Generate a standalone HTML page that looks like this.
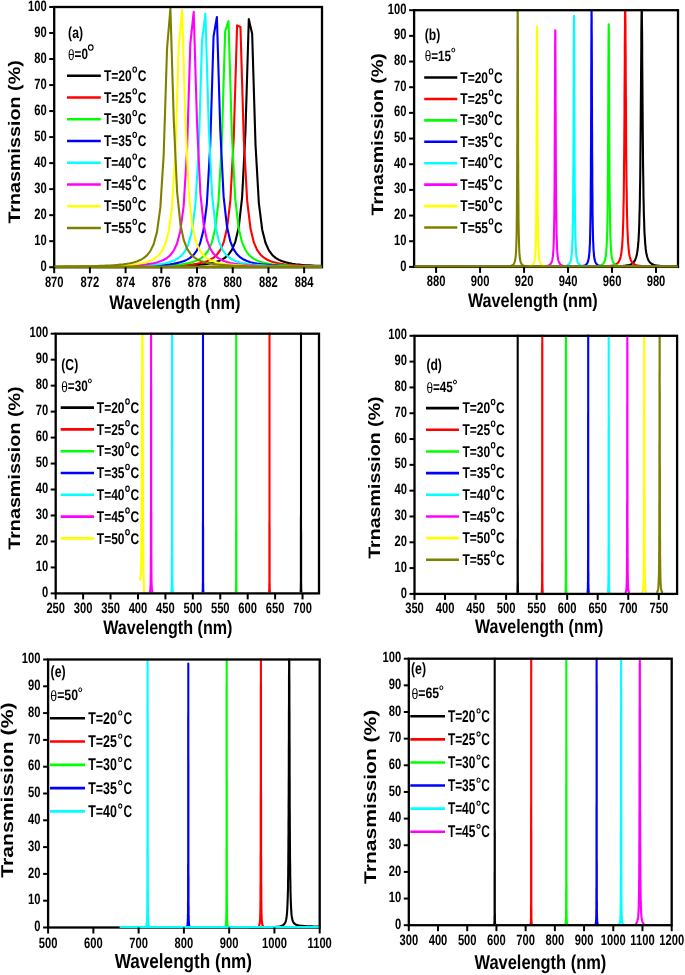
<!DOCTYPE html>
<html><head><meta charset="utf-8"><style>
html,body{margin:0;padding:0;background:#fff;}
svg{display:block;font-family:"Liberation Sans", sans-serif;text-rendering:geometricPrecision;}
text{filter:grayscale(1);}
</style></head><body>
<svg width="685" height="975" viewBox="0 0 685 975">
<rect width="685" height="975" fill="#fff"/>
<clipPath id="clipa"><rect x="54.2" y="6" width="267.8" height="262.2"/></clipPath>
<g clip-path="url(#clipa)">
<polyline points="54.20,267.04 54.50,267.04 57.85,267.03 61.20,267.03 64.55,267.02 67.90,267.01 71.25,267.01 74.60,267.00 77.95,266.99 81.30,266.98 84.65,266.97 88.00,266.96 91.35,266.95 94.70,266.94 98.05,266.93 101.40,266.92 104.75,266.91 108.10,266.89 111.45,266.88 114.80,266.86 118.15,266.84 121.50,266.82 124.85,266.80 128.20,266.78 131.55,266.76 134.90,266.73 138.25,266.70 141.60,266.67 144.95,266.64 148.30,266.60 151.65,266.56 155.00,266.52 158.35,266.46 161.70,266.41 165.05,266.34 168.40,266.27 171.75,266.19 175.10,266.10 178.45,266.00 181.80,265.88 185.15,265.74 188.50,265.58 191.85,265.39 195.20,265.16 198.55,264.89 201.90,264.56 205.25,264.16 208.60,263.65 211.95,263.02 215.30,262.19 218.65,261.10 222.00,259.61 225.35,257.51 228.70,254.41 232.05,249.60 235.40,241.60 238.75,227.03 242.10,197.45 245.45,131.74 248.80,19.17 252.15,33.81 255.50,144.36 258.85,203.10 262.20,229.70 265.55,243.00 268.90,250.42 272.25,254.93 275.60,257.85 278.95,259.85 282.30,261.27 285.65,262.32 289.00,263.12 292.35,263.73 295.70,264.22 299.05,264.61 302.40,264.93 305.75,265.19 309.10,265.41 312.45,265.60 315.80,265.76 319.15,265.89 322.00,266.00" fill="none" stroke="#000000" stroke-width="2.1" stroke-linejoin="round"/>
<polyline points="54.20,267.02 56.20,267.01 59.55,267.01 62.90,267.00 66.25,266.99 69.60,266.98 72.95,266.97 76.30,266.96 79.65,266.95 83.00,266.94 86.35,266.93 89.70,266.92 93.05,266.91 96.40,266.89 99.75,266.88 103.10,266.86 106.45,266.84 109.80,266.83 113.15,266.81 116.50,266.78 119.85,266.76 123.20,266.73 126.55,266.71 129.90,266.68 133.25,266.64 136.60,266.60 139.95,266.56 143.30,266.52 146.65,266.47 150.00,266.41 153.35,266.35 156.70,266.28 160.05,266.20 163.40,266.11 166.75,266.00 170.10,265.88 173.45,265.75 176.80,265.59 180.15,265.40 183.50,265.17 186.85,264.91 190.20,264.58 193.55,264.19 196.90,263.69 200.25,263.06 203.60,262.25 206.95,261.18 210.30,259.72 213.65,257.66 217.00,254.64 220.35,249.97 223.70,242.24 227.05,228.25 230.40,200.05 233.75,137.54 237.10,25.42 240.45,26.98 243.80,138.88 247.15,200.65 250.50,228.54 253.85,242.39 257.20,250.06 260.55,254.70 263.90,257.70 267.25,259.74 270.60,261.20 273.95,262.26 277.30,263.07 280.65,263.70 284.00,264.19 287.35,264.59 290.70,264.91 294.05,265.18 297.40,265.40 300.75,265.59 304.10,265.75 307.45,265.89 310.80,266.01 314.15,266.11 317.50,266.20 320.85,266.28 322.00,266.30" fill="none" stroke="#ff0000" stroke-width="2.1" stroke-linejoin="round"/>
<polyline points="54.20,266.99 54.30,266.99 57.65,266.98 61.00,266.97 64.35,266.96 67.70,266.95 71.05,266.94 74.40,266.93 77.75,266.92 81.10,266.91 84.45,266.89 87.80,266.88 91.15,266.86 94.50,266.85 97.85,266.83 101.20,266.81 104.55,266.79 107.90,266.76 111.25,266.74 114.60,266.71 117.95,266.68 121.30,266.64 124.65,266.61 128.00,266.57 131.35,266.52 134.70,266.47 138.05,266.41 141.40,266.35 144.75,266.28 148.10,266.20 151.45,266.11 154.80,266.01 158.15,265.89 161.50,265.76 164.85,265.60 168.20,265.41 171.55,265.19 174.90,264.92 178.25,264.60 181.60,264.21 184.95,263.72 188.30,263.10 191.65,262.30 195.00,261.25 198.35,259.81 201.70,257.80 205.05,254.85 208.40,250.30 211.75,242.80 215.10,229.31 218.45,202.30 221.80,142.56 225.15,31.49 228.50,21.20 231.85,133.71 235.20,198.33 238.55,227.44 241.90,241.81 245.25,249.73 248.60,254.49 251.95,257.56 255.30,259.65 258.65,261.13 262.00,262.21 265.35,263.03 268.70,263.67 272.05,264.17 275.40,264.57 278.75,264.89 282.10,265.16 285.45,265.39 288.80,265.58 292.15,265.74 295.50,265.88 298.85,266.00 302.20,266.10 305.55,266.19 308.90,266.27 312.25,266.35 315.60,266.41 318.95,266.47 322.00,266.51" fill="none" stroke="#00ff00" stroke-width="2.1" stroke-linejoin="round"/>
<polyline points="54.20,266.96 56.10,266.96 59.45,266.94 62.80,266.93 66.15,266.92 69.50,266.91 72.85,266.89 76.20,266.88 79.55,266.86 82.90,266.85 86.25,266.83 89.60,266.81 92.95,266.79 96.30,266.76 99.65,266.74 103.00,266.71 106.35,266.68 109.70,266.65 113.05,266.61 116.40,266.57 119.75,266.52 123.10,266.47 126.45,266.42 129.80,266.36 133.15,266.29 136.50,266.21 139.85,266.12 143.20,266.01 146.55,265.90 149.90,265.76 153.25,265.60 156.60,265.42 159.95,265.20 163.30,264.94 166.65,264.62 170.00,264.23 173.35,263.75 176.70,263.13 180.05,262.34 183.40,261.30 186.75,259.89 190.10,257.91 193.45,255.01 196.80,250.56 200.15,243.23 203.50,230.12 206.85,204.00 210.20,146.38 213.55,36.50 216.90,16.94 220.25,129.47 223.60,196.42 226.95,226.55 230.30,241.34 233.65,249.45 237.00,254.32 240.35,257.45 243.70,259.57 247.05,261.07 250.40,262.17 253.75,263.00 257.10,263.64 260.45,264.15 263.80,264.55 267.15,264.88 270.50,265.15 273.85,265.38 277.20,265.57 280.55,265.73 283.90,265.87 287.25,265.99 290.60,266.10 293.95,266.19 297.30,266.27 300.65,266.34 304.00,266.41 307.35,266.46 310.70,266.51 314.05,266.56 317.40,266.60 320.75,266.64 322.00,266.65" fill="none" stroke="#0000ff" stroke-width="2.1" stroke-linejoin="round"/>
<polyline points="54.20,266.92 54.65,266.92 58.00,266.91 61.35,266.89 64.70,266.88 68.05,266.86 71.40,266.85 74.75,266.83 78.10,266.81 81.45,266.79 84.80,266.76 88.15,266.74 91.50,266.71 94.85,266.68 98.20,266.65 101.55,266.61 104.90,266.57 108.25,266.52 111.60,266.47 114.95,266.42 118.30,266.36 121.65,266.29 125.00,266.21 128.35,266.12 131.70,266.02 135.05,265.90 138.40,265.77 141.75,265.61 145.10,265.43 148.45,265.21 151.80,264.95 155.15,264.63 158.50,264.24 161.85,263.76 165.20,263.16 168.55,262.38 171.90,261.34 175.25,259.95 178.60,257.99 181.95,255.14 185.30,250.75 188.65,243.57 192.00,230.75 195.35,205.32 198.70,149.35 202.05,40.63 205.40,13.77 208.75,125.98 212.10,194.84 215.45,225.81 218.80,240.96 222.15,249.23 225.50,254.18 228.85,257.35 232.20,259.50 235.55,261.02 238.90,262.14 242.25,262.97 245.60,263.62 248.95,264.13 252.30,264.54 255.65,264.87 259.00,265.14 262.35,265.37 265.70,265.57 269.05,265.73 272.40,265.87 275.75,265.99 279.10,266.10 282.45,266.19 285.80,266.27 289.15,266.34 292.50,266.40 295.85,266.46 299.20,266.51 302.55,266.56 305.90,266.60 309.25,266.64 312.60,266.67 315.95,266.70 319.30,266.73 322.00,266.75" fill="none" stroke="#00ffff" stroke-width="2.1" stroke-linejoin="round"/>
<polyline points="54.20,266.87 56.35,266.86 59.70,266.85 63.05,266.83 66.40,266.81 69.75,266.79 73.10,266.76 76.45,266.74 79.80,266.71 83.15,266.68 86.50,266.65 89.85,266.61 93.20,266.57 96.55,266.53 99.90,266.48 103.25,266.42 106.60,266.36 109.95,266.29 113.30,266.21 116.65,266.12 120.00,266.02 123.35,265.91 126.70,265.77 130.05,265.61 133.40,265.43 136.75,265.21 140.10,264.95 143.45,264.64 146.80,264.26 150.15,263.78 153.50,263.17 156.85,262.40 160.20,261.37 163.55,259.99 166.90,258.05 170.25,255.22 173.60,250.88 176.95,243.79 180.30,231.17 183.65,206.18 187.00,151.28 190.35,43.43 193.70,11.77 197.05,123.61 200.40,193.76 203.75,225.31 207.10,240.70 210.45,249.08 213.80,254.09 217.15,257.29 220.50,259.46 223.85,260.99 227.20,262.11 230.55,262.96 233.90,263.61 237.25,264.12 240.60,264.53 243.95,264.86 247.30,265.14 250.65,265.37 254.00,265.56 257.35,265.73 260.70,265.87 264.05,265.99 267.40,266.09 270.75,266.19 274.10,266.27 277.45,266.34 280.80,266.40 284.15,266.46 287.50,266.51 290.85,266.56 294.20,266.60 297.55,266.64 300.90,266.67 304.25,266.70 307.60,266.73 310.95,266.76 314.30,266.78 317.65,266.80 321.00,266.82 322.00,266.83" fill="none" stroke="#ff00ff" stroke-width="2.1" stroke-linejoin="round"/>
<polyline points="54.20,266.81 54.80,266.81 58.15,266.79 61.50,266.76 64.85,266.74 68.20,266.71 71.55,266.68 74.90,266.65 78.25,266.61 81.60,266.57 84.95,266.53 88.30,266.48 91.65,266.42 95.00,266.36 98.35,266.29 101.70,266.21 105.05,266.12 108.40,266.02 111.75,265.91 115.10,265.77 118.45,265.62 121.80,265.43 125.15,265.22 128.50,264.96 131.85,264.65 135.20,264.26 138.55,263.79 141.90,263.19 145.25,262.42 148.60,261.40 151.95,260.02 155.30,258.09 158.65,255.29 162.00,251.00 165.35,243.98 168.70,231.52 172.05,206.91 175.40,152.94 178.75,45.91 182.10,10.11 185.45,121.51 188.80,192.80 192.15,224.87 195.50,240.47 198.85,248.95 202.20,254.00 205.55,257.24 208.90,259.42 212.25,260.96 215.60,262.09 218.95,262.94 222.30,263.60 225.65,264.11 229.00,264.52 232.35,264.86 235.70,265.13 239.05,265.36 242.40,265.56 245.75,265.72 249.10,265.86 252.45,265.99 255.80,266.09 259.15,266.18 262.50,266.27 265.85,266.34 269.20,266.40 272.55,266.46 275.90,266.51 279.25,266.56 282.60,266.60 285.95,266.64 289.30,266.67 292.65,266.70 296.00,266.73 299.35,266.76 302.70,266.78 306.05,266.80 309.40,266.82 312.75,266.84 316.10,266.86 319.45,266.88 322.00,266.89" fill="none" stroke="#ffff00" stroke-width="2.1" stroke-linejoin="round"/>
<polyline points="54.20,266.73 56.50,266.71 59.85,266.68 63.20,266.65 66.55,266.61 69.90,266.57 73.25,266.53 76.60,266.48 79.95,266.42 83.30,266.36 86.65,266.29 90.00,266.22 93.35,266.13 96.70,266.03 100.05,265.91 103.40,265.78 106.75,265.62 110.10,265.44 113.45,265.22 116.80,264.97 120.15,264.65 123.50,264.27 126.85,263.80 130.20,263.20 133.55,262.43 136.90,261.42 140.25,260.05 143.60,258.14 146.95,255.36 150.30,251.11 153.65,244.17 157.00,231.87 160.35,207.64 163.70,154.57 167.05,48.41 170.40,8.53 173.75,119.38 177.10,191.83 180.45,224.42 183.80,240.23 187.15,248.82 190.50,253.92 193.85,257.18 197.20,259.38 200.55,260.94 203.90,262.07 207.25,262.93 210.60,263.58 213.95,264.10 217.30,264.51 220.65,264.85 224.00,265.13 227.35,265.36 230.70,265.55 234.05,265.72 237.40,265.86 240.75,265.98 244.10,266.09 247.45,266.18 250.80,266.26 254.15,266.34 257.50,266.40 260.85,266.46 264.20,266.51 267.55,266.56 270.90,266.60 274.25,266.63 277.60,266.67 280.95,266.70 284.30,266.73 287.65,266.76 291.00,266.78 294.35,266.80 297.70,266.82 301.05,266.84 304.40,266.86 307.75,266.88 311.10,266.89 314.45,266.90 317.80,266.92 321.15,266.93 322.00,266.93" fill="none" stroke="#808000" stroke-width="2.1" stroke-linejoin="round"/>
</g>
<rect x="54.2" y="7" width="267.8" height="260.2" fill="none" stroke="#000" stroke-width="2.3"/>
<line x1="54.2" y1="266.9" x2="322" y2="266.9" stroke="#808000" stroke-width="2.8"/>
<line x1="49.2" y1="267.2" x2="54.2" y2="267.2" stroke="#000" stroke-width="2"/>
<text transform="translate(46.6,270.8) scale(0.745,1)" font-size="15" font-weight="bold" text-anchor="end" fill="#000">0</text>
<line x1="49.2" y1="241.18" x2="54.2" y2="241.18" stroke="#000" stroke-width="2"/>
<text transform="translate(46.6,244.78) scale(0.745,1)" font-size="15" font-weight="bold" text-anchor="end" fill="#000">10</text>
<line x1="49.2" y1="215.16" x2="54.2" y2="215.16" stroke="#000" stroke-width="2"/>
<text transform="translate(46.6,218.76) scale(0.745,1)" font-size="15" font-weight="bold" text-anchor="end" fill="#000">20</text>
<line x1="49.2" y1="189.14" x2="54.2" y2="189.14" stroke="#000" stroke-width="2"/>
<text transform="translate(46.6,192.74) scale(0.745,1)" font-size="15" font-weight="bold" text-anchor="end" fill="#000">30</text>
<line x1="49.2" y1="163.12" x2="54.2" y2="163.12" stroke="#000" stroke-width="2"/>
<text transform="translate(46.6,166.72) scale(0.745,1)" font-size="15" font-weight="bold" text-anchor="end" fill="#000">40</text>
<line x1="49.2" y1="137.1" x2="54.2" y2="137.1" stroke="#000" stroke-width="2"/>
<text transform="translate(46.6,140.7) scale(0.745,1)" font-size="15" font-weight="bold" text-anchor="end" fill="#000">50</text>
<line x1="49.2" y1="111.08" x2="54.2" y2="111.08" stroke="#000" stroke-width="2"/>
<text transform="translate(46.6,114.68) scale(0.745,1)" font-size="15" font-weight="bold" text-anchor="end" fill="#000">60</text>
<line x1="49.2" y1="85.06" x2="54.2" y2="85.06" stroke="#000" stroke-width="2"/>
<text transform="translate(46.6,88.66) scale(0.745,1)" font-size="15" font-weight="bold" text-anchor="end" fill="#000">70</text>
<line x1="49.2" y1="59.04" x2="54.2" y2="59.04" stroke="#000" stroke-width="2"/>
<text transform="translate(46.6,62.64) scale(0.745,1)" font-size="15" font-weight="bold" text-anchor="end" fill="#000">80</text>
<line x1="49.2" y1="33.02" x2="54.2" y2="33.02" stroke="#000" stroke-width="2"/>
<text transform="translate(46.6,36.62) scale(0.745,1)" font-size="15" font-weight="bold" text-anchor="end" fill="#000">90</text>
<line x1="49.2" y1="7" x2="54.2" y2="7" stroke="#000" stroke-width="2"/>
<text transform="translate(46.6,10.6) scale(0.745,1)" font-size="15" font-weight="bold" text-anchor="end" fill="#000">100</text>
<line x1="54.2" y1="267.2" x2="54.2" y2="273.2" stroke="#000" stroke-width="2"/>
<text transform="translate(54.2,286.5) scale(0.745,1)" font-size="15" font-weight="bold" text-anchor="middle" fill="#000">870</text>
<line x1="89.91" y1="267.2" x2="89.91" y2="273.2" stroke="#000" stroke-width="2"/>
<text transform="translate(89.91,286.5) scale(0.745,1)" font-size="15" font-weight="bold" text-anchor="middle" fill="#000">872</text>
<line x1="125.61" y1="267.2" x2="125.61" y2="273.2" stroke="#000" stroke-width="2"/>
<text transform="translate(125.61,286.5) scale(0.745,1)" font-size="15" font-weight="bold" text-anchor="middle" fill="#000">874</text>
<line x1="161.32" y1="267.2" x2="161.32" y2="273.2" stroke="#000" stroke-width="2"/>
<text transform="translate(161.32,286.5) scale(0.745,1)" font-size="15" font-weight="bold" text-anchor="middle" fill="#000">876</text>
<line x1="197.03" y1="267.2" x2="197.03" y2="273.2" stroke="#000" stroke-width="2"/>
<text transform="translate(197.03,286.5) scale(0.745,1)" font-size="15" font-weight="bold" text-anchor="middle" fill="#000">878</text>
<line x1="232.73" y1="267.2" x2="232.73" y2="273.2" stroke="#000" stroke-width="2"/>
<text transform="translate(232.73,286.5) scale(0.745,1)" font-size="15" font-weight="bold" text-anchor="middle" fill="#000">880</text>
<line x1="268.44" y1="267.2" x2="268.44" y2="273.2" stroke="#000" stroke-width="2"/>
<text transform="translate(268.44,286.5) scale(0.745,1)" font-size="15" font-weight="bold" text-anchor="middle" fill="#000">882</text>
<line x1="304.15" y1="267.2" x2="304.15" y2="273.2" stroke="#000" stroke-width="2"/>
<text transform="translate(304.15,286.5) scale(0.745,1)" font-size="15" font-weight="bold" text-anchor="middle" fill="#000">884</text>
<text transform="translate(174.9,308.6) scale(0.84,1)" font-size="19.5" font-weight="bold" text-anchor="middle" fill="#000">Wavelength (nm)</text>
<text transform="translate(19.8,141.9) rotate(-90) scale(1,0.85)" font-size="19.6" font-weight="bold" text-anchor="middle" textLength="163.4" lengthAdjust="spacingAndGlyphs">Trnasmission (%)</text>
<text transform="translate(68.1,37.9) scale(0.765,1)" font-size="15.9" font-weight="bold" text-anchor="start" fill="#000">(a)</text>
<text transform="translate(68.1,59.2) scale(0.78,1)" font-size="15" font-weight="bold"><tspan font-weight="normal" dy="0.9">θ</tspan><tspan dy="-0.9">=</tspan>0</text>
<ellipse cx="90.77" cy="47.6" rx="2.3" ry="2.7" fill="none" stroke="#000" stroke-width="1.1"/>
<line x1="67" y1="75.7" x2="100.8" y2="75.7" stroke="#000000" stroke-width="2.6"/>
<text transform="translate(104,80.8) scale(0.775,1)" font-size="15.5" font-weight="bold" text-anchor="start" fill="#000">T=20</text>
<ellipse cx="134.71" cy="69.6" rx="1.75" ry="2.65" fill="none" stroke="#000" stroke-width="1.15"/>
<text transform="translate(137.71,80.8) scale(0.775,1)" font-size="15.5" font-weight="bold" text-anchor="start" fill="#000">C</text>
<line x1="67" y1="97.45" x2="100.8" y2="97.45" stroke="#ff0000" stroke-width="2.6"/>
<text transform="translate(104,102.55) scale(0.775,1)" font-size="15.5" font-weight="bold" text-anchor="start" fill="#000">T=25</text>
<ellipse cx="134.71" cy="91.35" rx="1.75" ry="2.65" fill="none" stroke="#000" stroke-width="1.15"/>
<text transform="translate(137.71,102.55) scale(0.775,1)" font-size="15.5" font-weight="bold" text-anchor="start" fill="#000">C</text>
<line x1="67" y1="119.2" x2="100.8" y2="119.2" stroke="#00ff00" stroke-width="2.6"/>
<text transform="translate(104,124.3) scale(0.775,1)" font-size="15.5" font-weight="bold" text-anchor="start" fill="#000">T=30</text>
<ellipse cx="134.71" cy="113.1" rx="1.75" ry="2.65" fill="none" stroke="#000" stroke-width="1.15"/>
<text transform="translate(137.71,124.3) scale(0.775,1)" font-size="15.5" font-weight="bold" text-anchor="start" fill="#000">C</text>
<line x1="67" y1="140.95" x2="100.8" y2="140.95" stroke="#0000ff" stroke-width="2.6"/>
<text transform="translate(104,146.05) scale(0.775,1)" font-size="15.5" font-weight="bold" text-anchor="start" fill="#000">T=35</text>
<ellipse cx="134.71" cy="134.85" rx="1.75" ry="2.65" fill="none" stroke="#000" stroke-width="1.15"/>
<text transform="translate(137.71,146.05) scale(0.775,1)" font-size="15.5" font-weight="bold" text-anchor="start" fill="#000">C</text>
<line x1="67" y1="162.7" x2="100.8" y2="162.7" stroke="#00ffff" stroke-width="2.6"/>
<text transform="translate(104,167.8) scale(0.775,1)" font-size="15.5" font-weight="bold" text-anchor="start" fill="#000">T=40</text>
<ellipse cx="134.71" cy="156.6" rx="1.75" ry="2.65" fill="none" stroke="#000" stroke-width="1.15"/>
<text transform="translate(137.71,167.8) scale(0.775,1)" font-size="15.5" font-weight="bold" text-anchor="start" fill="#000">C</text>
<line x1="67" y1="184.45" x2="100.8" y2="184.45" stroke="#ff00ff" stroke-width="2.6"/>
<text transform="translate(104,189.55) scale(0.775,1)" font-size="15.5" font-weight="bold" text-anchor="start" fill="#000">T=45</text>
<ellipse cx="134.71" cy="178.35" rx="1.75" ry="2.65" fill="none" stroke="#000" stroke-width="1.15"/>
<text transform="translate(137.71,189.55) scale(0.775,1)" font-size="15.5" font-weight="bold" text-anchor="start" fill="#000">C</text>
<line x1="67" y1="206.2" x2="100.8" y2="206.2" stroke="#ffff00" stroke-width="2.6"/>
<text transform="translate(104,211.3) scale(0.775,1)" font-size="15.5" font-weight="bold" text-anchor="start" fill="#000">T=50</text>
<ellipse cx="134.71" cy="200.1" rx="1.75" ry="2.65" fill="none" stroke="#000" stroke-width="1.15"/>
<text transform="translate(137.71,211.3) scale(0.775,1)" font-size="15.5" font-weight="bold" text-anchor="start" fill="#000">C</text>
<line x1="67" y1="227.95" x2="100.8" y2="227.95" stroke="#808000" stroke-width="2.6"/>
<text transform="translate(104,233.05) scale(0.775,1)" font-size="15.5" font-weight="bold" text-anchor="start" fill="#000">T=55</text>
<ellipse cx="134.71" cy="221.85" rx="1.75" ry="2.65" fill="none" stroke="#000" stroke-width="1.15"/>
<text transform="translate(137.71,233.05) scale(0.775,1)" font-size="15.5" font-weight="bold" text-anchor="start" fill="#000">C</text>
<clipPath id="clipb"><rect x="414.1" y="9.2" width="263.9" height="258.7"/></clipPath>
<g clip-path="url(#clipb)">
<polyline points="414.1,266.9 428.8,266.9 442.6,266.9 455.5,266.9 467.6,266.9 478.9,266.9 489.4,266.9 499.3,266.9 508.5,266.9 517.1,266.9 525.2,266.9 532.7,266.9 539.8,266.9 546.4,266.9 552.6,266.9 558.3,266.9 563.7,266.8 568.8,266.8 573.5,266.8 577.9,266.8 582.1,266.8 585.9,266.8 589.5,266.8 592.9,266.8 596.1,266.7 599.0,266.7 601.8,266.7 604.4,266.7 606.8,266.6 609.1,266.6 611.2,266.6 613.2,266.5 615.0,266.5 616.7,266.4 618.4,266.3 619.9,266.2 621.3,266.2 622.6,266.0 623.9,265.9 625.0,265.8 626.1,265.6 627.1,265.4 628.1,265.2 628.9,265.0 629.8,264.7 630.6,264.4 631.3,264.1 632.0,263.6 632.6,263.2 633.2,262.7 633.7,262.1 634.3,261.4 634.8,260.6 635.2,259.7 635.6,258.7 636.0,257.5 636.4,256.2 636.8,254.7 637.1,253.0 637.4,251.1 637.7,248.9 638.0,246.4 638.2,243.6 638.5,240.4 638.7,236.9 638.9,232.9 639.1,228.4 639.3,223.3 639.4,217.7 639.6,211.5 639.8,204.5 639.9,196.9 640.0,188.5 640.2,179.3 640.3,169.4 640.4,158.7 640.5,147.3 640.6,135.2 640.7,122.6 640.8,109.6 640.9,96.3 641.0,82.9 641.1,69.8 641.2,57.2 641.3,45.4 641.3,34.6 641.4,25.4 641.5,17.8 641.6,12.2 641.6,8.8 641.7,7.6 641.8,8.8 641.9,12.2 641.9,17.8 642.0,25.4 642.1,34.6 642.2,45.4 642.2,57.2 642.3,69.8 642.4,82.9 642.5,96.3 642.6,109.6 642.7,122.6 642.8,135.2 642.9,147.3 643.0,158.7 643.1,169.4 643.3,179.3 643.4,188.5 643.5,196.9 643.7,204.5 643.8,211.5 644.0,217.7 644.2,223.3 644.3,228.4 644.5,232.9 644.8,236.9 645.0,240.4 645.2,243.6 645.5,246.4 645.7,248.9 646.0,251.1 646.3,253.0 646.7,254.7 647.0,256.2 647.4,257.5 647.8,258.7 648.2,259.7 648.7,260.6 649.2,261.4 649.7,262.1 650.2,262.7 650.8,263.2 651.5,263.6 652.1,264.1 652.9,264.4 653.6,264.7 654.5,265.0 655.4,265.2 656.3,265.4 657.3,265.6 658.4,265.8 659.6,265.9 660.8,266.0 662.1,266.2 663.6,266.2 665.1,266.3 666.7,266.4 668.4,266.5 670.3,266.5 672.2,266.6 674.4,266.6 676.6,266.6" fill="none" stroke="#000000" stroke-width="2.1" stroke-linejoin="round"/>
<polyline points="414.1,266.9 428.0,266.9 441.0,266.9 453.1,266.9 464.4,266.9 475.0,266.9 484.9,266.9 494.1,266.9 502.7,266.9 510.8,266.9 518.3,266.9 525.4,266.9 531.9,266.9 538.1,266.9 543.8,266.9 549.2,266.9 554.2,266.9 558.8,266.8 563.2,266.8 567.3,266.8 571.1,266.8 574.7,266.8 578.0,266.8 581.1,266.8 584.0,266.8 586.7,266.8 589.2,266.7 591.6,266.7 593.8,266.7 595.9,266.6 597.8,266.6 599.6,266.6 601.3,266.5 602.9,266.5 604.4,266.4 605.7,266.3 607.0,266.2 608.2,266.1 609.3,266.0 610.4,265.9 611.4,265.8 612.3,265.6 613.1,265.4 613.9,265.2 614.7,264.9 615.4,264.6 616.0,264.3 616.6,263.9 617.2,263.5 617.7,263.0 618.2,262.5 618.7,261.8 619.1,261.1 619.5,260.2 619.9,259.3 620.3,258.2 620.6,257.0 620.9,255.5 621.2,253.9 621.5,252.1 621.7,250.0 622.0,247.6 622.2,244.9 622.4,241.9 622.6,238.5 622.8,234.6 622.9,230.2 623.1,225.3 623.3,219.8 623.4,213.7 623.5,206.9 623.7,199.4 623.8,191.1 623.9,182.0 624.0,172.1 624.1,161.4 624.2,150.0 624.3,137.9 624.4,125.2 624.5,112.0 624.5,98.5 624.6,84.9 624.7,71.5 624.8,58.6 624.8,46.5 624.9,35.5 625.0,25.9 625.0,18.1 625.1,12.4 625.2,8.8 625.2,7.6 625.3,8.8 625.3,12.4 625.4,18.1 625.5,25.9 625.5,35.5 625.6,46.5 625.7,58.6 625.7,71.5 625.8,84.9 625.9,98.5 626.0,112.0 626.1,125.2 626.1,137.9 626.2,150.0 626.3,161.4 626.4,172.1 626.5,182.0 626.7,191.1 626.8,199.4 626.9,206.9 627.0,213.7 627.2,219.8 627.3,225.3 627.5,230.2 627.7,234.6 627.9,238.5 628.0,241.9 628.3,244.9 628.5,247.6 628.7,250.0 629.0,252.1 629.2,253.9 629.5,255.5 629.8,257.0 630.2,258.2 630.5,259.3 630.9,260.2 631.3,261.1 631.8,261.8 632.2,262.5 632.7,263.0 633.2,263.5 633.8,263.9 634.4,264.3 635.1,264.6 635.8,264.9 636.5,265.2 637.3,265.4 638.2,265.6 639.1,265.8 640.1,265.9 641.1,266.0 642.2,266.1 643.4,266.2 644.7,266.3 646.1,266.4 647.6,266.5 649.1,266.5 650.8,266.6 652.6,266.6 654.5,266.6 656.6,266.7 658.8,266.7 661.2,266.7 663.7,266.8 666.4,266.8 669.3,266.8 672.5,266.8 675.8,266.8" fill="none" stroke="#ff0000" stroke-width="2.1" stroke-linejoin="round"/>
<polyline points="414.1,266.9 427.5,266.9 440.0,266.9 451.6,266.9 462.4,266.9 472.4,266.9 481.8,266.9 490.5,266.9 498.7,266.9 506.2,266.9 513.3,266.9 519.9,266.9 526.0,266.9 531.7,266.9 537.0,266.9 541.9,266.9 546.5,266.9 550.8,266.9 554.8,266.9 558.5,266.9 561.9,266.9 565.2,266.8 568.2,266.8 570.9,266.8 573.5,266.8 576.0,266.8 578.2,266.8 580.3,266.8 582.3,266.8 584.1,266.7 585.8,266.7 587.4,266.7 588.8,266.7 590.2,266.6 591.5,266.6 592.7,266.5 593.8,266.5 594.8,266.4 595.8,266.3 596.7,266.2 597.5,266.1 598.3,266.0 599.0,265.9 599.7,265.7 600.3,265.5 600.9,265.3 601.4,265.1 601.9,264.8 602.4,264.5 602.8,264.1 603.2,263.7 603.6,263.2 604.0,262.6 604.3,262.0 604.6,261.2 604.9,260.4 605.2,259.4 605.4,258.3 605.6,257.0 605.9,255.5 606.1,253.8 606.2,251.8 606.4,249.6 606.6,247.1 606.7,244.2 606.9,240.9 607.0,237.2 607.1,232.9 607.3,228.2 607.4,222.8 607.5,216.8 607.6,210.0 607.7,202.6 607.8,194.3 607.8,185.3 607.9,175.4 608.0,164.7 608.0,153.2 608.1,141.1 608.2,128.4 608.2,115.3 608.3,102.0 608.3,88.8 608.4,75.9 608.4,63.8 608.5,52.7 608.5,43.0 608.6,35.1 608.6,29.2 608.7,25.5 608.7,24.3 608.8,25.5 608.8,29.2 608.9,35.1 608.9,43.0 609.0,52.7 609.0,63.8 609.1,75.9 609.1,88.8 609.2,102.0 609.2,115.3 609.3,128.4 609.3,141.1 609.4,153.2 609.5,164.7 609.5,175.4 609.6,185.3 609.7,194.3 609.8,202.6 609.9,210.0 610.0,216.8 610.1,222.8 610.2,228.2 610.3,232.9 610.4,237.2 610.6,240.9 610.7,244.2 610.9,247.1 611.0,249.6 611.2,251.8 611.4,253.8 611.6,255.5 611.8,257.0 612.0,258.3 612.3,259.4 612.6,260.4 612.8,261.2 613.2,262.0 613.5,262.6 613.8,263.2 614.2,263.7 614.6,264.1 615.1,264.5 615.5,264.8 616.0,265.1 616.6,265.3 617.2,265.5 617.8,265.7 618.5,265.9 619.2,266.0 620.0,266.1 620.8,266.2 621.7,266.3 622.7,266.4 623.7,266.5 624.8,266.5 626.0,266.6 627.2,266.6 628.6,266.7 630.1,266.7 631.7,266.7 633.4,266.7 635.2,266.8 637.1,266.8 639.2,266.8 641.5,266.8 643.9,266.8 646.5,266.8 649.3,266.8 652.3,266.8 655.5,266.9 659.0,266.9 662.7,266.9 666.7,266.9 671.0,266.9 675.5,266.9" fill="none" stroke="#00ff00" stroke-width="2.1" stroke-linejoin="round"/>
<polyline points="414.1,266.9 426.5,266.9 438.0,266.9 448.7,266.9 458.7,266.9 468.0,266.9 476.6,266.9 484.6,266.9 492.1,266.9 499.0,266.9 505.5,266.9 511.5,266.9 517.1,266.9 522.3,266.9 527.1,266.9 531.6,266.9 535.8,266.9 539.7,266.9 543.3,266.9 546.7,266.9 549.8,266.9 552.7,266.9 555.4,266.8 558.0,266.8 560.3,266.8 562.5,266.8 564.5,266.8 566.4,266.8 568.2,266.8 569.8,266.7 571.3,266.7 572.7,266.7 574.0,266.7 575.3,266.6 576.4,266.6 577.5,266.5 578.5,266.5 579.4,266.4 580.2,266.3 581.0,266.3 581.8,266.2 582.4,266.0 583.1,265.9 583.7,265.7 584.2,265.6 584.7,265.4 585.2,265.1 585.7,264.8 586.1,264.5 586.5,264.2 586.8,263.7 587.2,263.3 587.5,262.7 587.8,262.0 588.0,261.3 588.3,260.4 588.5,259.4 588.7,258.3 588.9,257.0 589.1,255.5 589.3,253.7 589.5,251.7 589.6,249.5 589.7,246.9 589.9,243.9 590.0,240.5 590.1,236.6 590.2,232.2 590.3,227.3 590.4,221.7 590.5,215.3 590.6,208.3 590.7,200.4 590.7,191.7 590.8,182.1 590.9,171.5 590.9,160.1 591.0,147.9 591.1,134.8 591.1,121.1 591.2,107.0 591.2,92.6 591.2,78.2 591.3,64.2 591.3,50.9 591.4,38.8 591.4,28.2 591.5,19.5 591.5,13.0 591.5,9.0 591.6,7.6 591.6,9.0 591.6,13.0 591.7,19.5 591.7,28.2 591.8,38.8 591.8,50.9 591.9,64.2 591.9,78.2 591.9,92.6 592.0,107.0 592.0,121.1 592.1,134.8 592.1,147.9 592.2,160.1 592.3,171.5 592.3,182.1 592.4,191.7 592.5,200.4 592.5,208.3 592.6,215.3 592.7,221.7 592.8,227.3 592.9,232.2 593.0,236.6 593.1,240.5 593.3,243.9 593.4,246.9 593.5,249.5 593.7,251.7 593.9,253.7 594.0,255.5 594.2,257.0 594.4,258.3 594.6,259.4 594.9,260.4 595.1,261.3 595.4,262.0 595.7,262.7 596.0,263.3 596.3,263.7 596.7,264.2 597.1,264.5 597.5,264.8 597.9,265.1 598.4,265.4 598.9,265.6 599.5,265.7 600.1,265.9 600.7,266.0 601.4,266.2 602.1,266.3 602.9,266.3 603.8,266.4 604.7,266.5 605.7,266.5 606.7,266.6 607.9,266.6 609.1,266.7 610.4,266.7 611.8,266.7 613.3,266.7 615.0,266.8 616.7,266.8 618.6,266.8 620.7,266.8 622.8,266.8 625.2,266.8 627.7,266.8 630.4,266.9 633.3,266.9 636.5,266.9 639.8,266.9 643.5,266.9 647.3,266.9 651.5,266.9 656.0,266.9 660.9,266.9 666.1,266.9 671.7,266.9 677.7,266.9" fill="none" stroke="#0000ff" stroke-width="2.1" stroke-linejoin="round"/>
<polyline points="414.1,266.9 425.1,266.9 435.3,266.9 444.8,266.9 453.7,266.9 462.0,266.9 469.7,266.9 476.8,266.9 483.5,266.9 489.7,266.9 495.5,266.9 500.9,266.9 505.9,266.9 510.6,266.9 515.0,266.9 519.0,266.9 522.8,266.9 526.3,266.9 529.6,266.9 532.6,266.9 535.5,266.9 538.1,266.8 540.6,266.8 542.9,266.8 545.0,266.8 547.0,266.8 548.9,266.8 550.6,266.8 552.2,266.8 553.7,266.7 555.1,266.7 556.4,266.7 557.6,266.6 558.7,266.6 559.8,266.6 560.7,266.5 561.7,266.4 562.5,266.4 563.3,266.3 564.0,266.2 564.7,266.1 565.4,266.0 565.9,265.8 566.5,265.7 567.0,265.5 567.5,265.2 567.9,265.0 568.4,264.7 568.7,264.4 569.1,264.0 569.4,263.5 569.8,263.0 570.1,262.4 570.3,261.8 570.6,261.0 570.8,260.1 571.0,259.1 571.2,257.9 571.4,256.6 571.6,255.0 571.8,253.3 571.9,251.2 572.1,248.9 572.2,246.3 572.3,243.3 572.5,239.9 572.6,236.0 572.7,231.6 572.8,226.7 572.9,221.1 572.9,214.9 573.0,207.9 573.1,200.2 573.2,191.6 573.2,182.2 573.3,172.0 573.4,160.9 573.4,149.1 573.5,136.5 573.5,123.4 573.6,109.8 573.6,96.1 573.7,82.4 573.7,69.1 573.7,56.6 573.8,45.1 573.8,35.2 573.9,27.0 573.9,20.9 573.9,17.1 574.0,15.8 574.0,17.1 574.1,20.9 574.1,27.0 574.1,35.2 574.2,45.1 574.2,56.6 574.3,69.1 574.3,82.4 574.3,96.1 574.4,109.8 574.4,123.4 574.5,136.5 574.5,149.1 574.6,160.9 574.7,172.0 574.7,182.2 574.8,191.6 574.9,200.2 574.9,207.9 575.0,214.9 575.1,221.1 575.2,226.7 575.3,231.6 575.4,236.0 575.5,239.9 575.6,243.3 575.7,246.3 575.9,248.9 576.0,251.2 576.2,253.3 576.3,255.0 576.5,256.6 576.7,257.9 576.9,259.1 577.1,260.1 577.4,261.0 577.6,261.8 577.9,262.4 578.2,263.0 578.5,263.5 578.9,264.0 579.2,264.4 579.6,264.7 580.0,265.0 580.5,265.2 580.9,265.5 581.5,265.7 582.0,265.8 582.6,266.0 583.2,266.1 583.9,266.2 584.7,266.3 585.5,266.4 586.3,266.4 587.2,266.5 588.2,266.6 589.2,266.6 590.4,266.6 591.6,266.7 592.9,266.7 594.3,266.7 595.8,266.8 597.4,266.8 599.1,266.8 600.9,266.8 602.9,266.8 605.1,266.8 607.4,266.8 609.8,266.8 612.5,266.9 615.3,266.9 618.4,266.9 621.6,266.9 625.2,266.9 628.9,266.9 633.0,266.9 637.4,266.9 642.0,266.9 647.0,266.9 652.4,266.9 658.2,266.9 664.4,266.9 671.1,266.9" fill="none" stroke="#00ffff" stroke-width="2.1" stroke-linejoin="round"/>
<polyline points="414.1,266.9 423.6,266.9 432.5,266.9 440.8,266.9 448.5,266.9 455.7,266.9 462.4,266.9 468.7,266.9 474.5,266.9 480.0,266.9 485.0,266.9 489.8,266.9 494.2,266.9 498.3,266.9 502.2,266.9 505.7,266.9 509.1,266.9 512.2,266.9 515.1,266.9 517.8,266.9 520.3,266.8 522.7,266.8 524.9,266.8 526.9,266.8 528.9,266.8 530.6,266.8 532.3,266.8 533.8,266.8 535.3,266.7 536.6,266.7 537.9,266.7 539.1,266.6 540.2,266.6 541.2,266.6 542.1,266.5 543.0,266.5 543.9,266.4 544.6,266.3 545.3,266.2 546.0,266.1 546.6,266.0 547.2,265.9 547.8,265.7 548.3,265.6 548.8,265.4 549.2,265.1 549.6,264.9 550.0,264.6 550.3,264.2 550.7,263.8 551.0,263.4 551.3,262.8 551.6,262.2 551.8,261.6 552.1,260.8 552.3,259.9 552.5,258.8 552.7,257.6 552.9,256.3 553.0,254.7 553.2,253.0 553.3,250.9 553.5,248.6 553.6,246.0 553.7,243.1 553.8,239.7 553.9,235.9 554.0,231.6 554.1,226.8 554.2,221.4 554.3,215.4 554.4,208.7 554.4,201.3 554.5,193.1 554.6,184.2 554.6,174.5 554.7,164.0 554.7,152.9 554.8,141.1 554.8,128.9 554.9,116.3 554.9,103.6 555.0,91.0 555.0,78.8 555.1,67.3 555.1,56.9 555.1,47.8 555.2,40.3 555.2,34.8 555.2,31.4 555.3,30.2 555.3,31.4 555.4,34.8 555.4,40.3 555.4,47.8 555.5,56.9 555.5,67.3 555.6,78.8 555.6,91.0 555.6,103.6 555.7,116.3 555.7,128.9 555.8,141.1 555.8,152.9 555.9,164.0 555.9,174.5 556.0,184.2 556.1,193.1 556.1,201.3 556.2,208.7 556.3,215.4 556.4,221.4 556.5,226.8 556.5,231.6 556.6,235.9 556.8,239.7 556.9,243.1 557.0,246.0 557.1,248.6 557.2,250.9 557.4,253.0 557.6,254.7 557.7,256.3 557.9,257.6 558.1,258.8 558.3,259.9 558.5,260.8 558.8,261.6 559.0,262.2 559.3,262.8 559.6,263.4 559.9,263.8 560.2,264.2 560.6,264.6 561.0,264.9 561.4,265.1 561.8,265.4 562.3,265.6 562.8,265.7 563.3,265.9 563.9,266.0 564.6,266.1 565.2,266.2 565.9,266.3 566.7,266.4 567.5,266.5 568.4,266.5 569.4,266.6 570.4,266.6 571.5,266.6 572.7,266.7 573.9,266.7 575.3,266.7 576.7,266.8 578.3,266.8 579.9,266.8 581.7,266.8 583.6,266.8 585.7,266.8 587.9,266.8 590.2,266.8 592.8,266.9 595.5,266.9 598.4,266.9 601.5,266.9 604.8,266.9 608.4,266.9 612.3,266.9 616.4,266.9 620.8,266.9 625.5,266.9 630.6,266.9 636.1,266.9 641.9,266.9 648.2,266.9 654.9,266.9 662.1,266.9 669.8,266.9" fill="none" stroke="#ff00ff" stroke-width="2.1" stroke-linejoin="round"/>
<polyline points="415.1,266.9 423.6,266.9 431.5,266.9 438.9,266.9 445.7,266.9 452.1,266.9 458.0,266.9 463.5,266.9 468.7,266.9 473.5,266.9 477.9,266.9 482.0,266.9 485.9,266.9 489.4,266.9 492.8,266.9 495.9,266.9 498.7,266.9 501.4,266.9 503.9,266.9 506.2,266.9 508.4,266.8 510.4,266.8 512.2,266.8 514.0,266.8 515.6,266.8 517.1,266.8 518.5,266.8 519.8,266.8 521.0,266.7 522.1,266.7 523.1,266.7 524.1,266.6 525.0,266.6 525.8,266.6 526.6,266.5 527.4,266.5 528.0,266.4 528.7,266.3 529.2,266.2 529.8,266.1 530.3,266.0 530.8,265.8 531.2,265.7 531.6,265.5 532.0,265.3 532.3,265.0 532.7,264.7 533.0,264.4 533.3,264.0 533.5,263.5 533.8,263.0 534.0,262.4 534.2,261.7 534.4,260.9 534.6,260.0 534.8,258.9 534.9,257.7 535.1,256.3 535.2,254.7 535.4,252.9 535.5,250.8 535.6,248.3 535.7,245.6 535.8,242.4 535.9,238.9 536.0,234.8 536.0,230.2 536.1,225.0 536.2,219.1 536.3,212.6 536.3,205.3 536.4,197.2 536.4,188.3 536.5,178.5 536.5,167.9 536.6,156.5 536.6,144.4 536.7,131.8 536.7,118.6 536.7,105.2 536.8,91.9 536.8,78.9 536.8,66.6 536.9,55.3 536.9,45.5 536.9,37.4 537.0,31.3 537.0,27.6 537.0,26.4 537.1,27.6 537.1,31.3 537.1,37.4 537.2,45.5 537.2,55.3 537.2,66.6 537.3,78.9 537.3,91.9 537.3,105.2 537.4,118.6 537.4,131.8 537.4,144.4 537.5,156.5 537.5,167.9 537.6,178.5 537.6,188.3 537.7,197.2 537.7,205.3 537.8,212.6 537.9,219.1 537.9,225.0 538.0,230.2 538.1,234.8 538.2,238.9 538.3,242.4 538.4,245.6 538.5,248.3 538.6,250.8 538.7,252.9 538.8,254.7 539.0,256.3 539.1,257.7 539.3,258.9 539.5,260.0 539.6,260.9 539.8,261.7 540.1,262.4 540.3,263.0 540.5,263.5 540.8,264.0 541.1,264.4 541.4,264.7 541.7,265.0 542.1,265.3 542.5,265.5 542.9,265.7 543.3,265.8 543.8,266.0 544.3,266.1 544.8,266.2 545.4,266.3 546.0,266.4 546.7,266.5 547.4,266.5 548.2,266.6 549.1,266.6 550.0,266.6 550.9,266.7 552.0,266.7 553.1,266.7 554.3,266.8 555.6,266.8 557.0,266.8 558.5,266.8 560.1,266.8 561.8,266.8 563.7,266.8 565.7,266.8 567.9,266.9 570.2,266.9 572.7,266.9 575.3,266.9 578.2,266.9 581.3,266.9 584.6,266.9 588.2,266.9 592.0,266.9 596.2,266.9 600.6,266.9 605.4,266.9 610.5,266.9 616.0,266.9 622.0,266.9 628.3,266.9 635.2,266.9 642.6,266.9 650.5,266.9 659.0,266.9 668.2,266.9 678.0,266.9" fill="none" stroke="#ffff00" stroke-width="2.1" stroke-linejoin="round"/>
<polyline points="414.7,266.9 422.1,266.9 428.9,266.9 435.2,266.9 441.0,266.9 446.5,266.9 451.6,266.9 456.3,266.9 460.6,266.9 464.7,266.9 468.5,266.9 472.0,266.9 475.2,266.9 478.2,266.9 481.0,266.9 483.7,266.9 486.1,266.9 488.3,266.8 490.4,266.8 492.4,266.8 494.2,266.8 495.8,266.8 497.4,266.8 498.8,266.8 500.2,266.8 501.4,266.7 502.6,266.7 503.7,266.7 504.6,266.6 505.6,266.6 506.4,266.5 507.2,266.5 508.0,266.4 508.7,266.3 509.3,266.3 509.9,266.2 510.5,266.0 511.0,265.9 511.5,265.7 511.9,265.6 512.3,265.3 512.7,265.1 513.1,264.8 513.4,264.5 513.7,264.1 514.0,263.6 514.2,263.1 514.5,262.5 514.7,261.8 514.9,261.1 515.1,260.1 515.3,259.1 515.5,257.9 515.6,256.4 515.8,254.8 515.9,252.9 516.1,250.8 516.2,248.3 516.3,245.5 516.4,242.3 516.5,238.6 516.6,234.3 516.7,229.6 516.7,224.1 516.8,218.0 516.9,211.1 516.9,203.4 517.0,194.8 517.1,185.3 517.1,174.8 517.2,163.5 517.2,151.2 517.3,138.1 517.3,124.2 517.3,109.9 517.4,95.2 517.4,80.5 517.5,66.2 517.5,52.5 517.5,40.0 517.6,29.0 517.6,19.9 517.6,13.2 517.6,9.0 517.7,7.6 517.7,9.0 517.7,13.2 517.8,19.9 517.8,29.0 517.8,40.0 517.9,52.5 517.9,66.2 517.9,80.5 518.0,95.2 518.0,109.9 518.1,124.2 518.1,138.1 518.1,151.2 518.2,163.5 518.2,174.8 518.3,185.3 518.4,194.8 518.4,203.4 518.5,211.1 518.5,218.0 518.6,224.1 518.7,229.6 518.8,234.3 518.9,238.6 519.0,242.3 519.1,245.5 519.2,248.3 519.3,250.8 519.4,252.9 519.6,254.8 519.7,256.4 519.9,257.9 520.0,259.1 520.2,260.1 520.4,261.1 520.6,261.8 520.9,262.5 521.1,263.1 521.4,263.6 521.7,264.1 522.0,264.5 522.3,264.8 522.7,265.1 523.0,265.3 523.5,265.6 523.9,265.7 524.4,265.9 524.9,266.0 525.5,266.2 526.0,266.3 526.7,266.3 527.4,266.4 528.1,266.5 528.9,266.5 529.8,266.6 530.7,266.6 531.7,266.7 532.8,266.7 533.9,266.7 535.2,266.8 536.5,266.8 538.0,266.8 539.5,266.8 541.2,266.8 543.0,266.8 544.9,266.8 547.0,266.8 549.3,266.9 551.7,266.9 554.3,266.9 557.1,266.9 560.1,266.9 563.4,266.9 566.9,266.9 570.7,266.9 574.7,266.9 579.1,266.9 583.8,266.9 588.9,266.9 594.3,266.9 600.2,266.9 606.5,266.9 613.3,266.9 620.6,266.9 628.5,266.9 637.0,266.9 646.2,266.9 656.0,266.9 666.6,266.9 678.0,266.9" fill="none" stroke="#808000" stroke-width="2.1" stroke-linejoin="round"/>
</g>
<rect x="414.1" y="10.2" width="263.9" height="256.7" fill="none" stroke="#000" stroke-width="2.3"/>
<line x1="414.1" y1="266.4" x2="678" y2="266.4" stroke="#808000" stroke-width="2.0"/>
<line x1="409.1" y1="266.9" x2="414.1" y2="266.9" stroke="#000" stroke-width="2"/>
<text transform="translate(406.5,270.5) scale(0.745,1)" font-size="15" font-weight="bold" text-anchor="end" fill="#000">0</text>
<line x1="409.1" y1="241.23" x2="414.1" y2="241.23" stroke="#000" stroke-width="2"/>
<text transform="translate(406.5,244.83) scale(0.745,1)" font-size="15" font-weight="bold" text-anchor="end" fill="#000">10</text>
<line x1="409.1" y1="215.56" x2="414.1" y2="215.56" stroke="#000" stroke-width="2"/>
<text transform="translate(406.5,219.16) scale(0.745,1)" font-size="15" font-weight="bold" text-anchor="end" fill="#000">20</text>
<line x1="409.1" y1="189.89" x2="414.1" y2="189.89" stroke="#000" stroke-width="2"/>
<text transform="translate(406.5,193.49) scale(0.745,1)" font-size="15" font-weight="bold" text-anchor="end" fill="#000">30</text>
<line x1="409.1" y1="164.22" x2="414.1" y2="164.22" stroke="#000" stroke-width="2"/>
<text transform="translate(406.5,167.82) scale(0.745,1)" font-size="15" font-weight="bold" text-anchor="end" fill="#000">40</text>
<line x1="409.1" y1="138.55" x2="414.1" y2="138.55" stroke="#000" stroke-width="2"/>
<text transform="translate(406.5,142.15) scale(0.745,1)" font-size="15" font-weight="bold" text-anchor="end" fill="#000">50</text>
<line x1="409.1" y1="112.88" x2="414.1" y2="112.88" stroke="#000" stroke-width="2"/>
<text transform="translate(406.5,116.48) scale(0.745,1)" font-size="15" font-weight="bold" text-anchor="end" fill="#000">60</text>
<line x1="409.1" y1="87.21" x2="414.1" y2="87.21" stroke="#000" stroke-width="2"/>
<text transform="translate(406.5,90.81) scale(0.745,1)" font-size="15" font-weight="bold" text-anchor="end" fill="#000">70</text>
<line x1="409.1" y1="61.54" x2="414.1" y2="61.54" stroke="#000" stroke-width="2"/>
<text transform="translate(406.5,65.14) scale(0.745,1)" font-size="15" font-weight="bold" text-anchor="end" fill="#000">80</text>
<line x1="409.1" y1="35.87" x2="414.1" y2="35.87" stroke="#000" stroke-width="2"/>
<text transform="translate(406.5,39.47) scale(0.745,1)" font-size="15" font-weight="bold" text-anchor="end" fill="#000">90</text>
<line x1="409.1" y1="10.2" x2="414.1" y2="10.2" stroke="#000" stroke-width="2"/>
<text transform="translate(406.5,13.8) scale(0.745,1)" font-size="15" font-weight="bold" text-anchor="end" fill="#000">100</text>
<line x1="436.09" y1="266.9" x2="436.09" y2="272.9" stroke="#000" stroke-width="2"/>
<text transform="translate(436.09,286.4) scale(0.745,1)" font-size="15" font-weight="bold" text-anchor="middle" fill="#000">880</text>
<line x1="480.08" y1="266.9" x2="480.08" y2="272.9" stroke="#000" stroke-width="2"/>
<text transform="translate(480.08,286.4) scale(0.745,1)" font-size="15" font-weight="bold" text-anchor="middle" fill="#000">900</text>
<line x1="524.06" y1="266.9" x2="524.06" y2="272.9" stroke="#000" stroke-width="2"/>
<text transform="translate(524.06,286.4) scale(0.745,1)" font-size="15" font-weight="bold" text-anchor="middle" fill="#000">920</text>
<line x1="568.04" y1="266.9" x2="568.04" y2="272.9" stroke="#000" stroke-width="2"/>
<text transform="translate(568.04,286.4) scale(0.745,1)" font-size="15" font-weight="bold" text-anchor="middle" fill="#000">940</text>
<line x1="612.02" y1="266.9" x2="612.02" y2="272.9" stroke="#000" stroke-width="2"/>
<text transform="translate(612.02,286.4) scale(0.745,1)" font-size="15" font-weight="bold" text-anchor="middle" fill="#000">960</text>
<line x1="656.01" y1="266.9" x2="656.01" y2="272.9" stroke="#000" stroke-width="2"/>
<text transform="translate(656.01,286.4) scale(0.745,1)" font-size="15" font-weight="bold" text-anchor="middle" fill="#000">980</text>
<text transform="translate(532.8,307.3) scale(0.83,1)" font-size="19.5" font-weight="bold" text-anchor="middle" fill="#000">Wavelength (nm)</text>
<text transform="translate(383,134.3) rotate(-90) scale(1,0.85)" font-size="19.45" font-weight="bold" text-anchor="middle" textLength="162.3" lengthAdjust="spacingAndGlyphs">Trnasmission (%)</text>
<text transform="translate(424.7,39.6) scale(0.765,1)" font-size="15.9" font-weight="bold" text-anchor="start" fill="#000">(b)</text>
<text transform="translate(424.7,60.5) scale(0.78,1)" font-size="15" font-weight="bold"><tspan font-weight="normal" dy="0.9">θ</tspan><tspan dy="-0.9">=</tspan>15</text>
<ellipse cx="453.27" cy="50.1" rx="1.5" ry="1.9" fill="none" stroke="#000" stroke-width="1.0"/>
<line x1="424.2" y1="77.5" x2="457.3" y2="77.5" stroke="#000000" stroke-width="2.6"/>
<text transform="translate(460.3,82.6) scale(0.775,1)" font-size="15.5" font-weight="bold" text-anchor="start" fill="#000">T=20</text>
<ellipse cx="491.01" cy="71.4" rx="1.75" ry="2.65" fill="none" stroke="#000" stroke-width="1.15"/>
<text transform="translate(494.01,82.6) scale(0.775,1)" font-size="15.5" font-weight="bold" text-anchor="start" fill="#000">C</text>
<line x1="424.2" y1="98.93" x2="457.3" y2="98.93" stroke="#ff0000" stroke-width="2.6"/>
<text transform="translate(460.3,104.03) scale(0.775,1)" font-size="15.5" font-weight="bold" text-anchor="start" fill="#000">T=25</text>
<ellipse cx="491.01" cy="92.83" rx="1.75" ry="2.65" fill="none" stroke="#000" stroke-width="1.15"/>
<text transform="translate(494.01,104.03) scale(0.775,1)" font-size="15.5" font-weight="bold" text-anchor="start" fill="#000">C</text>
<line x1="424.2" y1="120.36" x2="457.3" y2="120.36" stroke="#00ff00" stroke-width="2.6"/>
<text transform="translate(460.3,125.46) scale(0.775,1)" font-size="15.5" font-weight="bold" text-anchor="start" fill="#000">T=30</text>
<ellipse cx="491.01" cy="114.26" rx="1.75" ry="2.65" fill="none" stroke="#000" stroke-width="1.15"/>
<text transform="translate(494.01,125.46) scale(0.775,1)" font-size="15.5" font-weight="bold" text-anchor="start" fill="#000">C</text>
<line x1="424.2" y1="141.79" x2="457.3" y2="141.79" stroke="#0000ff" stroke-width="2.6"/>
<text transform="translate(460.3,146.89) scale(0.775,1)" font-size="15.5" font-weight="bold" text-anchor="start" fill="#000">T=35</text>
<ellipse cx="491.01" cy="135.69" rx="1.75" ry="2.65" fill="none" stroke="#000" stroke-width="1.15"/>
<text transform="translate(494.01,146.89) scale(0.775,1)" font-size="15.5" font-weight="bold" text-anchor="start" fill="#000">C</text>
<line x1="424.2" y1="163.22" x2="457.3" y2="163.22" stroke="#00ffff" stroke-width="2.6"/>
<text transform="translate(460.3,168.32) scale(0.775,1)" font-size="15.5" font-weight="bold" text-anchor="start" fill="#000">T=40</text>
<ellipse cx="491.01" cy="157.12" rx="1.75" ry="2.65" fill="none" stroke="#000" stroke-width="1.15"/>
<text transform="translate(494.01,168.32) scale(0.775,1)" font-size="15.5" font-weight="bold" text-anchor="start" fill="#000">C</text>
<line x1="424.2" y1="184.65" x2="457.3" y2="184.65" stroke="#ff00ff" stroke-width="2.6"/>
<text transform="translate(460.3,189.75) scale(0.775,1)" font-size="15.5" font-weight="bold" text-anchor="start" fill="#000">T=45</text>
<ellipse cx="491.01" cy="178.55" rx="1.75" ry="2.65" fill="none" stroke="#000" stroke-width="1.15"/>
<text transform="translate(494.01,189.75) scale(0.775,1)" font-size="15.5" font-weight="bold" text-anchor="start" fill="#000">C</text>
<line x1="424.2" y1="206.08" x2="457.3" y2="206.08" stroke="#ffff00" stroke-width="2.6"/>
<text transform="translate(460.3,211.18) scale(0.775,1)" font-size="15.5" font-weight="bold" text-anchor="start" fill="#000">T=50</text>
<ellipse cx="491.01" cy="199.98" rx="1.75" ry="2.65" fill="none" stroke="#000" stroke-width="1.15"/>
<text transform="translate(494.01,211.18) scale(0.775,1)" font-size="15.5" font-weight="bold" text-anchor="start" fill="#000">C</text>
<line x1="424.2" y1="227.51" x2="457.3" y2="227.51" stroke="#808000" stroke-width="2.6"/>
<text transform="translate(460.3,232.61) scale(0.775,1)" font-size="15.5" font-weight="bold" text-anchor="start" fill="#000">T=55</text>
<ellipse cx="491.01" cy="221.41" rx="1.75" ry="2.65" fill="none" stroke="#000" stroke-width="1.15"/>
<text transform="translate(494.01,232.61) scale(0.775,1)" font-size="15.5" font-weight="bold" text-anchor="start" fill="#000">C</text>
<clipPath id="clipc"><rect x="55.7" y="332.7" width="263.3" height="261.7"/></clipPath>
<g clip-path="url(#clipc)">
<polyline points="300.5,592.2 300.6,592.1 300.6,592.1 300.6,591.9 300.6,591.8 300.6,591.7 300.6,591.6 300.7,591.4 300.7,591.3 300.7,591.1 300.7,590.9 300.7,590.7 300.7,590.5 300.7,590.3 300.7,590.1 300.7,589.8 300.8,589.5 300.8,589.2 300.8,588.9 300.8,588.6 300.8,588.2 300.8,587.8 300.8,587.3 300.8,586.9 300.8,586.4 300.8,585.8 300.8,585.2 300.8,584.6 300.8,583.9 300.8,583.2 300.9,582.4 300.9,581.6 300.9,580.6 300.9,579.7 300.9,578.6 300.9,577.5 300.9,576.3 300.9,575.0 300.9,573.6 300.9,572.1 300.9,570.5 300.9,568.8 300.9,567.0 300.9,565.0 300.9,562.9 300.9,560.7 300.9,558.3 300.9,555.7 300.9,553.0 300.9,550.1 300.9,547.0 300.9,543.8 300.9,540.3 300.9,536.6 300.9,532.7 300.9,528.5 300.9,524.1 300.9,519.5 301.0,514.7 301.0,509.6 301.0,504.2 301.0,498.6 301.0,492.8 301.0,486.7 301.0,480.3 301.0,473.8 301.0,467.0 301.0,460.0 301.0,452.9 301.0,445.6 301.0,438.1 301.0,430.6 301.0,423.0 301.0,415.3 301.0,407.7 301.0,400.2 301.0,392.8 301.0,385.5 301.0,378.5 301.0,371.7 301.0,365.3 301.0,359.3 301.0,353.7 301.0,348.6 301.0,344.1 301.0,340.3 301.0,337.0 301.0,334.4 301.0,332.6 301.0,331.5 301.0,331.1 301.0,331.5 301.0,332.6 301.0,334.4 301.0,337.0 301.0,340.3 301.0,344.1 301.0,348.6 301.0,353.7 301.0,359.3 301.0,365.3 301.0,371.7 301.0,378.5 301.0,385.5 301.0,392.8 301.0,400.2 301.0,407.7 301.0,415.3 301.0,423.0 301.0,430.6 301.0,438.1 301.0,445.6 301.0,452.9 301.0,460.0 301.0,467.0 301.0,473.8 301.0,480.3 301.0,486.7 301.0,492.8 301.0,498.6 301.0,504.2 301.0,509.6 301.0,514.7 301.0,519.5 301.0,524.1 301.0,528.5 301.1,532.7 301.1,536.6 301.1,540.3 301.1,543.8 301.1,547.0 301.1,550.1 301.1,553.0 301.1,555.7 301.1,558.3 301.1,560.7 301.1,562.9 301.1,565.0 301.1,567.0 301.1,568.8 301.1,570.5 301.1,572.1 301.1,573.6 301.1,575.0 301.1,576.3 301.1,577.5 301.1,578.6 301.1,579.7 301.1,580.6 301.1,581.6 301.1,582.4 301.1,583.2 301.2,583.9 301.2,584.6 301.2,585.2 301.2,585.8 301.2,586.4 301.2,586.9 301.2,587.3 301.2,587.8 301.2,588.2 301.2,588.6 301.2,588.9 301.2,589.2 301.2,589.5 301.3,589.8 301.3,590.1 301.3,590.3 301.3,590.5 301.3,590.7 301.3,590.9 301.3,591.1 301.3,591.3 301.3,591.4 301.4,591.6 301.4,591.7 301.4,591.8 301.4,591.9 301.4,592.1 301.4,592.1 301.4,592.2" fill="none" stroke="#000000" stroke-width="2.1" stroke-linejoin="round"/>
<polyline points="269.0,592.2 269.1,592.1 269.1,592.1 269.1,591.9 269.1,591.8 269.1,591.7 269.1,591.6 269.2,591.4 269.2,591.3 269.2,591.1 269.2,590.9 269.2,590.7 269.2,590.5 269.2,590.3 269.2,590.1 269.2,589.8 269.3,589.5 269.3,589.2 269.3,588.9 269.3,588.6 269.3,588.2 269.3,587.8 269.3,587.3 269.3,586.9 269.3,586.4 269.3,585.8 269.3,585.2 269.3,584.6 269.3,583.9 269.4,583.2 269.4,582.4 269.4,581.6 269.4,580.6 269.4,579.7 269.4,578.6 269.4,577.5 269.4,576.3 269.4,575.0 269.4,573.6 269.4,572.1 269.4,570.5 269.4,568.8 269.4,567.0 269.4,565.0 269.4,562.9 269.4,560.7 269.4,558.3 269.4,555.7 269.4,553.0 269.4,550.1 269.4,547.0 269.4,543.8 269.4,540.3 269.4,536.6 269.4,532.7 269.4,528.5 269.4,524.1 269.5,519.5 269.5,514.7 269.5,509.6 269.5,504.2 269.5,498.6 269.5,492.8 269.5,486.7 269.5,480.3 269.5,473.8 269.5,467.0 269.5,460.0 269.5,452.9 269.5,445.6 269.5,438.1 269.5,430.6 269.5,423.0 269.5,415.3 269.5,407.7 269.5,400.2 269.5,392.8 269.5,385.5 269.5,378.5 269.5,371.7 269.5,365.3 269.5,359.3 269.5,353.7 269.5,348.6 269.5,344.1 269.5,340.3 269.5,337.0 269.5,334.4 269.5,332.6 269.5,331.5 269.5,331.1 269.5,331.5 269.5,332.6 269.5,334.4 269.5,337.0 269.5,340.3 269.5,344.1 269.5,348.6 269.5,353.7 269.5,359.3 269.5,365.3 269.5,371.7 269.5,378.5 269.5,385.5 269.5,392.8 269.5,400.2 269.5,407.7 269.5,415.3 269.5,423.0 269.5,430.6 269.5,438.1 269.5,445.6 269.5,452.9 269.5,460.0 269.5,467.0 269.5,473.8 269.5,480.3 269.5,486.7 269.5,492.8 269.5,498.6 269.5,504.2 269.5,509.6 269.5,514.7 269.5,519.5 269.5,524.1 269.6,528.5 269.6,532.7 269.6,536.6 269.6,540.3 269.6,543.8 269.6,547.0 269.6,550.1 269.6,553.0 269.6,555.7 269.6,558.3 269.6,560.7 269.6,562.9 269.6,565.0 269.6,567.0 269.6,568.8 269.6,570.5 269.6,572.1 269.6,573.6 269.6,575.0 269.6,576.3 269.6,577.5 269.6,578.6 269.6,579.7 269.6,580.6 269.6,581.6 269.6,582.4 269.6,583.2 269.7,583.9 269.7,584.6 269.7,585.2 269.7,585.8 269.7,586.4 269.7,586.9 269.7,587.3 269.7,587.8 269.7,588.2 269.7,588.6 269.7,588.9 269.7,589.2 269.7,589.5 269.8,589.8 269.8,590.1 269.8,590.3 269.8,590.5 269.8,590.7 269.8,590.9 269.8,591.1 269.8,591.3 269.8,591.4 269.9,591.6 269.9,591.7 269.9,591.8 269.9,591.9 269.9,592.1 269.9,592.1 269.9,592.2" fill="none" stroke="#ff0000" stroke-width="2.1" stroke-linejoin="round"/>
<polyline points="235.8,592.2 235.8,592.1 235.8,592.1 235.8,591.9 235.8,591.8 235.8,591.7 235.8,591.6 235.9,591.4 235.9,591.3 235.9,591.1 235.9,590.9 235.9,590.7 235.9,590.5 235.9,590.3 235.9,590.1 235.9,589.8 236.0,589.5 236.0,589.2 236.0,588.9 236.0,588.6 236.0,588.2 236.0,587.8 236.0,587.3 236.0,586.9 236.0,586.4 236.0,585.8 236.0,585.2 236.0,584.6 236.0,583.9 236.1,583.2 236.1,582.4 236.1,581.6 236.1,580.6 236.1,579.7 236.1,578.6 236.1,577.5 236.1,576.3 236.1,575.0 236.1,573.6 236.1,572.1 236.1,570.5 236.1,568.8 236.1,567.0 236.1,565.0 236.1,562.9 236.1,560.7 236.1,558.3 236.1,555.7 236.1,553.0 236.1,550.1 236.1,547.0 236.1,543.8 236.1,540.3 236.1,536.6 236.1,532.7 236.2,528.5 236.2,524.1 236.2,519.5 236.2,514.7 236.2,509.6 236.2,504.2 236.2,498.6 236.2,492.8 236.2,486.7 236.2,480.3 236.2,473.8 236.2,467.0 236.2,460.0 236.2,452.9 236.2,445.6 236.2,438.1 236.2,430.6 236.2,423.0 236.2,415.3 236.2,407.7 236.2,400.2 236.2,392.8 236.2,385.5 236.2,378.5 236.2,371.7 236.2,365.3 236.2,359.3 236.2,353.7 236.2,348.6 236.2,344.1 236.2,340.3 236.2,337.0 236.2,334.4 236.2,332.6 236.2,331.5 236.2,331.1 236.2,331.5 236.2,332.6 236.2,334.4 236.2,337.0 236.2,340.3 236.2,344.1 236.2,348.6 236.2,353.7 236.2,359.3 236.2,365.3 236.2,371.7 236.2,378.5 236.2,385.5 236.2,392.8 236.2,400.2 236.2,407.7 236.2,415.3 236.2,423.0 236.2,430.6 236.2,438.1 236.2,445.6 236.2,452.9 236.2,460.0 236.2,467.0 236.2,473.8 236.2,480.3 236.2,486.7 236.2,492.8 236.2,498.6 236.2,504.2 236.2,509.6 236.2,514.7 236.3,519.5 236.3,524.1 236.3,528.5 236.3,532.7 236.3,536.6 236.3,540.3 236.3,543.8 236.3,547.0 236.3,550.1 236.3,553.0 236.3,555.7 236.3,558.3 236.3,560.7 236.3,562.9 236.3,565.0 236.3,567.0 236.3,568.8 236.3,570.5 236.3,572.1 236.3,573.6 236.3,575.0 236.3,576.3 236.3,577.5 236.3,578.6 236.3,579.7 236.3,580.6 236.3,581.6 236.3,582.4 236.4,583.2 236.4,583.9 236.4,584.6 236.4,585.2 236.4,585.8 236.4,586.4 236.4,586.9 236.4,587.3 236.4,587.8 236.4,588.2 236.4,588.6 236.4,588.9 236.4,589.2 236.4,589.5 236.5,589.8 236.5,590.1 236.5,590.3 236.5,590.5 236.5,590.7 236.5,590.9 236.5,591.1 236.5,591.3 236.5,591.4 236.6,591.6 236.6,591.7 236.6,591.8 236.6,591.9 236.6,592.1 236.6,592.1 236.7,592.2" fill="none" stroke="#00ff00" stroke-width="2.1" stroke-linejoin="round"/>
<polyline points="202.5,592.2 202.6,592.1 202.6,592.1 202.6,591.9 202.6,591.8 202.6,591.7 202.6,591.6 202.7,591.4 202.7,591.3 202.7,591.1 202.7,590.9 202.7,590.7 202.7,590.5 202.7,590.3 202.7,590.1 202.7,589.8 202.8,589.5 202.8,589.2 202.8,588.9 202.8,588.6 202.8,588.2 202.8,587.8 202.8,587.3 202.8,586.9 202.8,586.4 202.8,585.8 202.8,585.2 202.8,584.6 202.8,583.9 202.9,583.2 202.9,582.4 202.9,581.6 202.9,580.6 202.9,579.7 202.9,578.6 202.9,577.5 202.9,576.3 202.9,575.0 202.9,573.6 202.9,572.1 202.9,570.5 202.9,568.8 202.9,567.0 202.9,565.0 202.9,562.9 202.9,560.7 202.9,558.3 202.9,555.7 202.9,553.0 202.9,550.1 202.9,547.0 202.9,543.8 202.9,540.3 202.9,536.6 202.9,532.7 202.9,528.5 202.9,524.1 203.0,519.5 203.0,514.7 203.0,509.6 203.0,504.2 203.0,498.6 203.0,492.8 203.0,486.7 203.0,480.3 203.0,473.8 203.0,467.0 203.0,460.0 203.0,452.9 203.0,445.6 203.0,438.1 203.0,430.6 203.0,423.0 203.0,415.3 203.0,407.7 203.0,400.2 203.0,392.8 203.0,385.5 203.0,378.5 203.0,371.7 203.0,365.3 203.0,359.3 203.0,353.7 203.0,348.6 203.0,344.1 203.0,340.3 203.0,337.0 203.0,334.4 203.0,332.6 203.0,331.5 203.0,331.1 203.0,331.5 203.0,332.6 203.0,334.4 203.0,337.0 203.0,340.3 203.0,344.1 203.0,348.6 203.0,353.7 203.0,359.3 203.0,365.3 203.0,371.7 203.0,378.5 203.0,385.5 203.0,392.8 203.0,400.2 203.0,407.7 203.0,415.3 203.0,423.0 203.0,430.6 203.0,438.1 203.0,445.6 203.0,452.9 203.0,460.0 203.0,467.0 203.0,473.8 203.0,480.3 203.0,486.7 203.0,492.8 203.0,498.6 203.0,504.2 203.0,509.6 203.0,514.7 203.0,519.5 203.0,524.1 203.1,528.5 203.1,532.7 203.1,536.6 203.1,540.3 203.1,543.8 203.1,547.0 203.1,550.1 203.1,553.0 203.1,555.7 203.1,558.3 203.1,560.7 203.1,562.9 203.1,565.0 203.1,567.0 203.1,568.8 203.1,570.5 203.1,572.1 203.1,573.6 203.1,575.0 203.1,576.3 203.1,577.5 203.1,578.6 203.1,579.7 203.1,580.6 203.1,581.6 203.1,582.4 203.1,583.2 203.2,583.9 203.2,584.6 203.2,585.2 203.2,585.8 203.2,586.4 203.2,586.9 203.2,587.3 203.2,587.8 203.2,588.2 203.2,588.6 203.2,588.9 203.2,589.2 203.2,589.5 203.3,589.8 203.3,590.1 203.3,590.3 203.3,590.5 203.3,590.7 203.3,590.9 203.3,591.1 203.3,591.3 203.3,591.4 203.4,591.6 203.4,591.7 203.4,591.8 203.4,591.9 203.4,592.1 203.4,592.1 203.4,592.2" fill="none" stroke="#0000ff" stroke-width="2.1" stroke-linejoin="round"/>
<polyline points="171.2,592.2 171.2,592.1 171.3,592.1 171.3,591.9 171.3,591.8 171.4,591.7 171.4,591.6 171.4,591.4 171.4,591.3 171.5,591.1 171.5,590.9 171.5,590.7 171.5,590.5 171.6,590.3 171.6,590.1 171.6,589.8 171.6,589.5 171.6,589.2 171.6,588.9 171.7,588.6 171.7,588.2 171.7,587.8 171.7,587.3 171.7,586.9 171.7,586.4 171.8,585.8 171.8,585.2 171.8,584.6 171.8,583.9 171.8,583.2 171.8,582.4 171.8,581.6 171.8,580.6 171.8,579.7 171.9,578.6 171.9,577.5 171.9,576.3 171.9,575.0 171.9,573.6 171.9,572.1 171.9,570.5 171.9,568.8 171.9,567.0 171.9,565.0 171.9,562.9 171.9,560.7 171.9,558.3 172.0,555.7 172.0,553.0 172.0,550.1 172.0,547.0 172.0,543.8 172.0,540.3 172.0,536.6 172.0,532.7 172.0,528.5 172.0,524.1 172.0,519.5 172.0,514.7 172.0,509.6 172.0,504.2 172.0,498.6 172.0,492.8 172.0,486.7 172.0,480.3 172.0,473.8 172.0,467.0 172.0,460.0 172.0,452.9 172.0,445.6 172.1,438.1 172.1,430.6 172.1,423.0 172.1,415.3 172.1,407.7 172.1,400.2 172.1,392.8 172.1,385.5 172.1,378.5 172.1,371.7 172.1,365.3 172.1,359.3 172.1,353.7 172.1,348.6 172.1,344.1 172.1,340.3 172.1,337.0 172.1,334.4 172.1,332.6 172.1,331.5 172.1,331.1 172.1,331.5 172.1,332.6 172.1,334.4 172.1,337.0 172.1,340.3 172.1,344.1 172.1,348.6 172.1,353.7 172.1,359.3 172.1,365.3 172.1,371.7 172.1,378.5 172.1,385.5 172.1,392.8 172.1,400.2 172.1,407.7 172.1,415.3 172.1,423.0 172.1,430.6 172.2,438.1 172.2,445.6 172.2,452.9 172.2,460.0 172.2,467.0 172.2,473.8 172.2,480.3 172.2,486.7 172.2,492.8 172.2,498.6 172.2,504.2 172.2,509.6 172.2,514.7 172.2,519.5 172.2,524.1 172.2,528.5 172.2,532.7 172.2,536.6 172.2,540.3 172.2,543.8 172.2,547.0 172.2,550.1 172.2,553.0 172.2,555.7 172.3,558.3 172.3,560.7 172.3,562.9 172.3,565.0 172.3,567.0 172.3,568.8 172.3,570.5 172.3,572.1 172.3,573.6 172.3,575.0 172.3,576.3 172.3,577.5 172.3,578.6 172.4,579.7 172.4,580.6 172.4,581.6 172.4,582.4 172.4,583.2 172.4,583.9 172.4,584.6 172.4,585.2 172.4,585.8 172.5,586.4 172.5,586.9 172.5,587.3 172.5,587.8 172.5,588.2 172.5,588.6 172.6,588.9 172.6,589.2 172.6,589.5 172.6,589.8 172.6,590.1 172.7,590.3 172.7,590.5 172.7,590.7 172.7,590.9 172.7,591.1 172.8,591.3 172.8,591.4 172.8,591.6 172.8,591.7 172.9,591.8 172.9,591.9 172.9,592.1 173.0,592.1 173.0,592.2" fill="none" stroke="#00ffff" stroke-width="2.1" stroke-linejoin="round"/>
<polyline points="149.6,592.2 149.7,592.1 149.7,592.1 149.8,591.9 149.8,591.8 149.9,591.7 149.9,591.6 150.0,591.4 150.0,591.3 150.0,591.1 150.1,590.9 150.1,590.7 150.2,590.5 150.2,590.3 150.2,590.1 150.3,589.8 150.3,589.5 150.3,589.2 150.3,588.9 150.4,588.6 150.4,588.2 150.4,587.8 150.5,587.3 150.5,586.9 150.5,586.4 150.5,585.8 150.5,585.2 150.6,584.6 150.6,583.9 150.6,583.2 150.6,582.4 150.6,581.6 150.7,580.6 150.7,579.7 150.7,578.6 150.7,577.5 150.7,576.3 150.7,575.0 150.8,573.6 150.8,572.1 150.8,570.5 150.8,568.8 150.8,567.0 150.8,565.0 150.8,562.9 150.8,560.7 150.8,558.3 150.9,555.7 150.9,553.0 150.9,550.1 150.9,547.0 150.9,543.8 150.9,540.3 150.9,536.6 150.9,532.7 150.9,528.5 150.9,524.1 150.9,519.5 150.9,514.7 151.0,509.6 151.0,504.2 151.0,498.6 151.0,492.8 151.0,486.7 151.0,480.3 151.0,473.8 151.0,467.0 151.0,460.0 151.0,452.9 151.0,445.6 151.0,438.1 151.0,430.6 151.0,423.0 151.0,415.3 151.0,407.7 151.0,400.2 151.0,392.8 151.1,385.5 151.1,378.5 151.1,371.7 151.1,365.3 151.1,359.3 151.1,353.7 151.1,348.6 151.1,344.1 151.1,340.3 151.1,337.0 151.1,334.4 151.1,332.6 151.1,331.5 151.1,331.1 151.1,331.5 151.1,332.6 151.1,334.4 151.1,337.0 151.1,340.3 151.1,344.1 151.1,348.6 151.1,353.7 151.1,359.3 151.1,365.3 151.1,371.7 151.1,378.5 151.2,385.5 151.2,392.8 151.2,400.2 151.2,407.7 151.2,415.3 151.2,423.0 151.2,430.6 151.2,438.1 151.2,445.6 151.2,452.9 151.2,460.0 151.2,467.0 151.2,473.8 151.2,480.3 151.2,486.7 151.2,492.8 151.2,498.6 151.2,504.2 151.2,509.6 151.3,514.7 151.3,519.5 151.3,524.1 151.3,528.5 151.3,532.7 151.3,536.6 151.3,540.3 151.3,543.8 151.3,547.0 151.3,550.1 151.3,553.0 151.3,555.7 151.4,558.3 151.4,560.7 151.4,562.9 151.4,565.0 151.4,567.0 151.4,568.8 151.4,570.5 151.4,572.1 151.5,573.6 151.5,575.0 151.5,576.3 151.5,577.5 151.5,578.6 151.5,579.7 151.5,580.6 151.6,581.6 151.6,582.4 151.6,583.2 151.6,583.9 151.6,584.6 151.7,585.2 151.7,585.8 151.7,586.4 151.7,586.9 151.8,587.3 151.8,587.8 151.8,588.2 151.8,588.6 151.9,588.9 151.9,589.2 151.9,589.5 152.0,589.8 152.0,590.1 152.0,590.3 152.1,590.5 152.1,590.7 152.1,590.9 152.2,591.1 152.2,591.3 152.3,591.4 152.3,591.6 152.3,591.7 152.4,591.8 152.4,591.9 152.5,592.1 152.5,592.1 152.6,592.2" fill="none" stroke="#ff00ff" stroke-width="2.1" stroke-linejoin="round"/>
<path d="M139.6,580.6 Q139.9,578.4 140.8,577.2 L141.3,560 L141.8,480 L142.2,333 L142.6,333 L142.9,480 L143.1,540 L143.5,572 L144.1,593" fill="none" stroke="#ffff00" stroke-width="2.1" stroke-linejoin="round"/>
</g>
<rect x="55.7" y="333.7" width="263.3" height="259.7" fill="none" stroke="#000" stroke-width="2.3"/>
<line x1="50.7" y1="593.4" x2="55.7" y2="593.4" stroke="#000" stroke-width="2"/>
<text transform="translate(48.1,597) scale(0.745,1)" font-size="15" font-weight="bold" text-anchor="end" fill="#000">0</text>
<line x1="50.7" y1="567.43" x2="55.7" y2="567.43" stroke="#000" stroke-width="2"/>
<text transform="translate(48.1,571.03) scale(0.745,1)" font-size="15" font-weight="bold" text-anchor="end" fill="#000">10</text>
<line x1="50.7" y1="541.46" x2="55.7" y2="541.46" stroke="#000" stroke-width="2"/>
<text transform="translate(48.1,545.06) scale(0.745,1)" font-size="15" font-weight="bold" text-anchor="end" fill="#000">20</text>
<line x1="50.7" y1="515.49" x2="55.7" y2="515.49" stroke="#000" stroke-width="2"/>
<text transform="translate(48.1,519.09) scale(0.745,1)" font-size="15" font-weight="bold" text-anchor="end" fill="#000">30</text>
<line x1="50.7" y1="489.52" x2="55.7" y2="489.52" stroke="#000" stroke-width="2"/>
<text transform="translate(48.1,493.12) scale(0.745,1)" font-size="15" font-weight="bold" text-anchor="end" fill="#000">40</text>
<line x1="50.7" y1="463.55" x2="55.7" y2="463.55" stroke="#000" stroke-width="2"/>
<text transform="translate(48.1,467.15) scale(0.745,1)" font-size="15" font-weight="bold" text-anchor="end" fill="#000">50</text>
<line x1="50.7" y1="437.58" x2="55.7" y2="437.58" stroke="#000" stroke-width="2"/>
<text transform="translate(48.1,441.18) scale(0.745,1)" font-size="15" font-weight="bold" text-anchor="end" fill="#000">60</text>
<line x1="50.7" y1="411.61" x2="55.7" y2="411.61" stroke="#000" stroke-width="2"/>
<text transform="translate(48.1,415.21) scale(0.745,1)" font-size="15" font-weight="bold" text-anchor="end" fill="#000">70</text>
<line x1="50.7" y1="385.64" x2="55.7" y2="385.64" stroke="#000" stroke-width="2"/>
<text transform="translate(48.1,389.24) scale(0.745,1)" font-size="15" font-weight="bold" text-anchor="end" fill="#000">80</text>
<line x1="50.7" y1="359.67" x2="55.7" y2="359.67" stroke="#000" stroke-width="2"/>
<text transform="translate(48.1,363.27) scale(0.745,1)" font-size="15" font-weight="bold" text-anchor="end" fill="#000">90</text>
<line x1="50.7" y1="333.7" x2="55.7" y2="333.7" stroke="#000" stroke-width="2"/>
<text transform="translate(48.1,337.3) scale(0.745,1)" font-size="15" font-weight="bold" text-anchor="end" fill="#000">100</text>
<line x1="55.7" y1="593.4" x2="55.7" y2="599.4" stroke="#000" stroke-width="2"/>
<text transform="translate(55.7,612.5) scale(0.745,1)" font-size="15" font-weight="bold" text-anchor="middle" fill="#000">250</text>
<line x1="83.13" y1="593.4" x2="83.13" y2="599.4" stroke="#000" stroke-width="2"/>
<text transform="translate(83.13,612.5) scale(0.745,1)" font-size="15" font-weight="bold" text-anchor="middle" fill="#000">300</text>
<line x1="110.55" y1="593.4" x2="110.55" y2="599.4" stroke="#000" stroke-width="2"/>
<text transform="translate(110.55,612.5) scale(0.745,1)" font-size="15" font-weight="bold" text-anchor="middle" fill="#000">350</text>
<line x1="137.98" y1="593.4" x2="137.98" y2="599.4" stroke="#000" stroke-width="2"/>
<text transform="translate(137.98,612.5) scale(0.745,1)" font-size="15" font-weight="bold" text-anchor="middle" fill="#000">400</text>
<line x1="165.41" y1="593.4" x2="165.41" y2="599.4" stroke="#000" stroke-width="2"/>
<text transform="translate(165.41,612.5) scale(0.745,1)" font-size="15" font-weight="bold" text-anchor="middle" fill="#000">450</text>
<line x1="192.84" y1="593.4" x2="192.84" y2="599.4" stroke="#000" stroke-width="2"/>
<text transform="translate(192.84,612.5) scale(0.745,1)" font-size="15" font-weight="bold" text-anchor="middle" fill="#000">500</text>
<line x1="220.26" y1="593.4" x2="220.26" y2="599.4" stroke="#000" stroke-width="2"/>
<text transform="translate(220.26,612.5) scale(0.745,1)" font-size="15" font-weight="bold" text-anchor="middle" fill="#000">550</text>
<line x1="247.69" y1="593.4" x2="247.69" y2="599.4" stroke="#000" stroke-width="2"/>
<text transform="translate(247.69,612.5) scale(0.745,1)" font-size="15" font-weight="bold" text-anchor="middle" fill="#000">600</text>
<line x1="275.12" y1="593.4" x2="275.12" y2="599.4" stroke="#000" stroke-width="2"/>
<text transform="translate(275.12,612.5) scale(0.745,1)" font-size="15" font-weight="bold" text-anchor="middle" fill="#000">650</text>
<line x1="302.54" y1="593.4" x2="302.54" y2="599.4" stroke="#000" stroke-width="2"/>
<text transform="translate(302.54,612.5) scale(0.745,1)" font-size="15" font-weight="bold" text-anchor="middle" fill="#000">700</text>
<text transform="translate(167.8,633.6) scale(0.827,1)" font-size="19.5" font-weight="bold" text-anchor="middle" fill="#000">Wavelength (nm)</text>
<text transform="translate(20,468.1) rotate(-90) scale(1,0.85)" font-size="19.6" font-weight="bold" text-anchor="middle" textLength="163.4" lengthAdjust="spacingAndGlyphs">Trnasmission (%)</text>
<text transform="translate(61.3,369.9) scale(0.765,1)" font-size="15.9" font-weight="bold" text-anchor="start" fill="#000">(C)</text>
<text transform="translate(61.3,391.3) scale(0.78,1)" font-size="15" font-weight="bold"><tspan font-weight="normal" dy="0.9">θ</tspan><tspan dy="-0.9">=</tspan>30</text>
<ellipse cx="89.87" cy="380.9" rx="1.5" ry="1.9" fill="none" stroke="#000" stroke-width="1.0"/>
<line x1="60.7" y1="407.6" x2="94" y2="407.6" stroke="#000000" stroke-width="2.6"/>
<text transform="translate(96.8,412.7) scale(0.775,1)" font-size="15.5" font-weight="bold" text-anchor="start" fill="#000">T=20</text>
<ellipse cx="127.51" cy="401.5" rx="1.75" ry="2.65" fill="none" stroke="#000" stroke-width="1.15"/>
<text transform="translate(130.51,412.7) scale(0.775,1)" font-size="15.5" font-weight="bold" text-anchor="start" fill="#000">C</text>
<line x1="60.7" y1="429.4" x2="94" y2="429.4" stroke="#ff0000" stroke-width="2.6"/>
<text transform="translate(96.8,434.5) scale(0.775,1)" font-size="15.5" font-weight="bold" text-anchor="start" fill="#000">T=25</text>
<ellipse cx="127.51" cy="423.3" rx="1.75" ry="2.65" fill="none" stroke="#000" stroke-width="1.15"/>
<text transform="translate(130.51,434.5) scale(0.775,1)" font-size="15.5" font-weight="bold" text-anchor="start" fill="#000">C</text>
<line x1="60.7" y1="451.2" x2="94" y2="451.2" stroke="#00ff00" stroke-width="2.6"/>
<text transform="translate(96.8,456.3) scale(0.775,1)" font-size="15.5" font-weight="bold" text-anchor="start" fill="#000">T=30</text>
<ellipse cx="127.51" cy="445.1" rx="1.75" ry="2.65" fill="none" stroke="#000" stroke-width="1.15"/>
<text transform="translate(130.51,456.3) scale(0.775,1)" font-size="15.5" font-weight="bold" text-anchor="start" fill="#000">C</text>
<line x1="60.7" y1="473" x2="94" y2="473" stroke="#0000ff" stroke-width="2.6"/>
<text transform="translate(96.8,478.1) scale(0.775,1)" font-size="15.5" font-weight="bold" text-anchor="start" fill="#000">T=35</text>
<ellipse cx="127.51" cy="466.9" rx="1.75" ry="2.65" fill="none" stroke="#000" stroke-width="1.15"/>
<text transform="translate(130.51,478.1) scale(0.775,1)" font-size="15.5" font-weight="bold" text-anchor="start" fill="#000">C</text>
<line x1="60.7" y1="494.8" x2="94" y2="494.8" stroke="#00ffff" stroke-width="2.6"/>
<text transform="translate(96.8,499.9) scale(0.775,1)" font-size="15.5" font-weight="bold" text-anchor="start" fill="#000">T=40</text>
<ellipse cx="127.51" cy="488.7" rx="1.75" ry="2.65" fill="none" stroke="#000" stroke-width="1.15"/>
<text transform="translate(130.51,499.9) scale(0.775,1)" font-size="15.5" font-weight="bold" text-anchor="start" fill="#000">C</text>
<line x1="60.7" y1="516.6" x2="94" y2="516.6" stroke="#ff00ff" stroke-width="2.6"/>
<text transform="translate(96.8,521.7) scale(0.775,1)" font-size="15.5" font-weight="bold" text-anchor="start" fill="#000">T=45</text>
<ellipse cx="127.51" cy="510.5" rx="1.75" ry="2.65" fill="none" stroke="#000" stroke-width="1.15"/>
<text transform="translate(130.51,521.7) scale(0.775,1)" font-size="15.5" font-weight="bold" text-anchor="start" fill="#000">C</text>
<line x1="60.7" y1="538.4" x2="94" y2="538.4" stroke="#ffff00" stroke-width="2.6"/>
<text transform="translate(96.8,543.5) scale(0.775,1)" font-size="15.5" font-weight="bold" text-anchor="start" fill="#000">T=50</text>
<ellipse cx="127.51" cy="532.3" rx="1.75" ry="2.65" fill="none" stroke="#000" stroke-width="1.15"/>
<text transform="translate(130.51,543.5) scale(0.775,1)" font-size="15.5" font-weight="bold" text-anchor="start" fill="#000">C</text>
<clipPath id="clipd"><rect x="414.5" y="334.8" width="262.6" height="260.1"/></clipPath>
<g clip-path="url(#clipd)">
<polyline points="517.3,592.7 517.3,592.7 517.3,592.6 517.3,592.5 517.3,592.3 517.3,592.2 517.3,592.1 517.4,591.9 517.4,591.8 517.4,591.6 517.4,591.4 517.4,591.3 517.4,591.1 517.4,590.8 517.4,590.6 517.5,590.3 517.5,590.1 517.5,589.8 517.5,589.4 517.5,589.1 517.5,588.7 517.5,588.3 517.5,587.9 517.5,587.4 517.5,586.9 517.5,586.4 517.5,585.8 517.5,585.1 517.6,584.5 517.6,583.7 517.6,583.0 517.6,582.1 517.6,581.2 517.6,580.3 517.6,579.2 517.6,578.1 517.6,576.9 517.6,575.6 517.6,574.2 517.6,572.7 517.6,571.2 517.6,569.5 517.6,567.6 517.6,565.7 517.6,563.6 517.6,561.4 517.6,559.0 517.6,556.5 517.6,553.8 517.6,550.9 517.6,547.8 517.6,544.6 517.6,541.1 517.7,537.4 517.7,533.5 517.7,529.4 517.7,525.1 517.7,520.5 517.7,515.7 517.7,510.6 517.7,505.3 517.7,499.7 517.7,493.9 517.7,487.8 517.7,481.5 517.7,475.0 517.7,468.3 517.7,461.4 517.7,454.2 517.7,447.0 517.7,439.6 517.7,432.1 517.7,424.5 517.7,416.9 517.7,409.4 517.7,401.9 517.7,394.5 517.7,387.3 517.7,380.3 517.7,373.6 517.7,367.2 517.7,361.2 517.7,355.7 517.7,350.7 517.7,346.2 517.7,342.3 517.7,339.1 517.7,336.5 517.7,334.7 517.7,333.6 517.7,333.2 517.7,333.6 517.7,334.7 517.7,336.5 517.7,339.1 517.7,342.3 517.7,346.2 517.7,350.7 517.7,355.7 517.7,361.2 517.7,367.2 517.7,373.6 517.7,380.3 517.7,387.3 517.7,394.5 517.7,401.9 517.7,409.4 517.7,416.9 517.7,424.5 517.7,432.1 517.7,439.6 517.7,447.0 517.7,454.2 517.7,461.4 517.7,468.3 517.7,475.0 517.7,481.5 517.7,487.8 517.7,493.9 517.7,499.7 517.7,505.3 517.8,510.6 517.8,515.7 517.8,520.5 517.8,525.1 517.8,529.4 517.8,533.5 517.8,537.4 517.8,541.1 517.8,544.6 517.8,547.8 517.8,550.9 517.8,553.8 517.8,556.5 517.8,559.0 517.8,561.4 517.8,563.6 517.8,565.7 517.8,567.6 517.8,569.5 517.8,571.2 517.8,572.7 517.8,574.2 517.8,575.6 517.8,576.9 517.8,578.1 517.8,579.2 517.8,580.3 517.8,581.2 517.8,582.1 517.9,583.0 517.9,583.7 517.9,584.5 517.9,585.1 517.9,585.8 517.9,586.4 517.9,586.9 517.9,587.4 517.9,587.9 517.9,588.3 517.9,588.7 517.9,589.1 517.9,589.4 517.9,589.8 518.0,590.1 518.0,590.3 518.0,590.6 518.0,590.8 518.0,591.1 518.0,591.3 518.0,591.4 518.0,591.6 518.0,591.8 518.1,591.9 518.1,592.1 518.1,592.2 518.1,592.3 518.1,592.5 518.1,592.6 518.1,592.7 518.2,592.7" fill="none" stroke="#000000" stroke-width="2.1" stroke-linejoin="round"/>
<polyline points="541.7,592.7 541.7,592.7 541.7,592.6 541.7,592.5 541.7,592.3 541.8,592.2 541.8,592.1 541.8,591.9 541.8,591.8 541.8,591.6 541.8,591.4 541.9,591.3 541.9,591.1 541.9,590.8 541.9,590.6 541.9,590.3 541.9,590.1 541.9,589.8 542.0,589.4 542.0,589.1 542.0,588.7 542.0,588.3 542.0,587.9 542.0,587.4 542.0,586.9 542.0,586.4 542.0,585.8 542.0,585.1 542.1,584.5 542.1,583.7 542.1,583.0 542.1,582.1 542.1,581.2 542.1,580.3 542.1,579.2 542.1,578.1 542.1,576.9 542.1,575.6 542.1,574.2 542.1,572.7 542.1,571.2 542.1,569.5 542.1,567.6 542.1,565.7 542.1,563.6 542.2,561.4 542.2,559.0 542.2,556.5 542.2,553.8 542.2,550.9 542.2,547.8 542.2,544.6 542.2,541.1 542.2,537.4 542.2,533.5 542.2,529.4 542.2,525.1 542.2,520.5 542.2,515.7 542.2,510.6 542.2,505.3 542.2,499.7 542.2,493.9 542.2,487.8 542.2,481.5 542.2,475.0 542.2,468.3 542.2,461.4 542.2,454.2 542.2,447.0 542.2,439.6 542.2,432.1 542.2,424.5 542.2,416.9 542.2,409.4 542.2,401.9 542.2,394.5 542.2,387.3 542.2,380.3 542.2,373.6 542.2,367.2 542.2,361.2 542.2,355.7 542.2,350.7 542.2,346.2 542.3,342.3 542.3,339.1 542.3,336.5 542.3,334.7 542.3,333.6 542.3,333.2 542.3,333.6 542.3,334.7 542.3,336.5 542.3,339.1 542.3,342.3 542.3,346.2 542.3,350.7 542.3,355.7 542.3,361.2 542.3,367.2 542.3,373.6 542.3,380.3 542.3,387.3 542.3,394.5 542.3,401.9 542.3,409.4 542.3,416.9 542.3,424.5 542.3,432.1 542.3,439.6 542.3,447.0 542.3,454.2 542.3,461.4 542.3,468.3 542.3,475.0 542.3,481.5 542.3,487.8 542.3,493.9 542.3,499.7 542.3,505.3 542.3,510.6 542.3,515.7 542.3,520.5 542.3,525.1 542.3,529.4 542.3,533.5 542.3,537.4 542.3,541.1 542.3,544.6 542.3,547.8 542.3,550.9 542.4,553.8 542.4,556.5 542.4,559.0 542.4,561.4 542.4,563.6 542.4,565.7 542.4,567.6 542.4,569.5 542.4,571.2 542.4,572.7 542.4,574.2 542.4,575.6 542.4,576.9 542.4,578.1 542.4,579.2 542.4,580.3 542.4,581.2 542.4,582.1 542.4,583.0 542.5,583.7 542.5,584.5 542.5,585.1 542.5,585.8 542.5,586.4 542.5,586.9 542.5,587.4 542.5,587.9 542.5,588.3 542.5,588.7 542.5,589.1 542.6,589.4 542.6,589.8 542.6,590.1 542.6,590.3 542.6,590.6 542.6,590.8 542.6,591.1 542.7,591.3 542.7,591.4 542.7,591.6 542.7,591.8 542.7,591.9 542.7,592.1 542.8,592.2 542.8,592.3 542.8,592.5 542.8,592.6 542.8,592.7 542.9,592.7" fill="none" stroke="#ff0000" stroke-width="2.1" stroke-linejoin="round"/>
<polyline points="565.4,592.7 565.4,592.7 565.4,592.6 565.4,592.5 565.4,592.3 565.5,592.2 565.5,592.1 565.5,591.9 565.5,591.8 565.5,591.6 565.5,591.4 565.6,591.3 565.6,591.1 565.6,590.8 565.6,590.6 565.6,590.3 565.6,590.1 565.6,589.8 565.7,589.4 565.7,589.1 565.7,588.7 565.7,588.3 565.7,587.9 565.7,587.4 565.7,586.9 565.7,586.4 565.7,585.8 565.7,585.1 565.7,584.5 565.8,583.7 565.8,583.0 565.8,582.1 565.8,581.2 565.8,580.3 565.8,579.2 565.8,578.1 565.8,576.9 565.8,575.6 565.8,574.2 565.8,572.7 565.8,571.2 565.8,569.5 565.8,567.6 565.8,565.7 565.8,563.6 565.8,561.4 565.9,559.0 565.9,556.5 565.9,553.8 565.9,550.9 565.9,547.8 565.9,544.6 565.9,541.1 565.9,537.4 565.9,533.5 565.9,529.4 565.9,525.1 565.9,520.5 565.9,515.7 565.9,510.6 565.9,505.3 565.9,499.7 565.9,493.9 565.9,487.8 565.9,481.5 565.9,475.0 565.9,468.3 565.9,461.4 565.9,454.2 565.9,447.0 565.9,439.6 565.9,432.1 565.9,424.5 565.9,416.9 565.9,409.4 565.9,401.9 565.9,394.5 565.9,387.3 565.9,380.3 565.9,373.6 565.9,367.2 565.9,361.2 565.9,355.7 565.9,350.7 565.9,346.2 565.9,342.3 565.9,339.1 565.9,336.5 565.9,334.7 566.0,333.6 566.0,333.2 566.0,333.6 566.0,334.7 566.0,336.5 566.0,339.1 566.0,342.3 566.0,346.2 566.0,350.7 566.0,355.7 566.0,361.2 566.0,367.2 566.0,373.6 566.0,380.3 566.0,387.3 566.0,394.5 566.0,401.9 566.0,409.4 566.0,416.9 566.0,424.5 566.0,432.1 566.0,439.6 566.0,447.0 566.0,454.2 566.0,461.4 566.0,468.3 566.0,475.0 566.0,481.5 566.0,487.8 566.0,493.9 566.0,499.7 566.0,505.3 566.0,510.6 566.0,515.7 566.0,520.5 566.0,525.1 566.0,529.4 566.0,533.5 566.0,537.4 566.0,541.1 566.0,544.6 566.0,547.8 566.0,550.9 566.0,553.8 566.1,556.5 566.1,559.0 566.1,561.4 566.1,563.6 566.1,565.7 566.1,567.6 566.1,569.5 566.1,571.2 566.1,572.7 566.1,574.2 566.1,575.6 566.1,576.9 566.1,578.1 566.1,579.2 566.1,580.3 566.1,581.2 566.1,582.1 566.1,583.0 566.2,583.7 566.2,584.5 566.2,585.1 566.2,585.8 566.2,586.4 566.2,586.9 566.2,587.4 566.2,587.9 566.2,588.3 566.2,588.7 566.2,589.1 566.3,589.4 566.3,589.8 566.3,590.1 566.3,590.3 566.3,590.6 566.3,590.8 566.3,591.1 566.3,591.3 566.4,591.4 566.4,591.6 566.4,591.8 566.4,591.9 566.4,592.1 566.4,592.2 566.5,592.3 566.5,592.5 566.5,592.6 566.5,592.7 566.6,592.7" fill="none" stroke="#00ff00" stroke-width="2.1" stroke-linejoin="round"/>
<polyline points="587.4,592.7 587.5,592.7 587.5,592.6 587.5,592.5 587.5,592.3 587.6,592.2 587.6,592.1 587.6,591.9 587.6,591.8 587.6,591.6 587.7,591.4 587.7,591.3 587.7,591.1 587.7,590.8 587.7,590.6 587.8,590.3 587.8,590.1 587.8,589.8 587.8,589.4 587.8,589.1 587.8,588.7 587.8,588.3 587.9,587.9 587.9,587.4 587.9,586.9 587.9,586.4 587.9,585.8 587.9,585.1 587.9,584.5 587.9,583.7 587.9,583.0 588.0,582.1 588.0,581.2 588.0,580.3 588.0,579.2 588.0,578.1 588.0,576.9 588.0,575.6 588.0,574.2 588.0,572.7 588.0,571.2 588.0,569.5 588.0,567.6 588.0,565.7 588.0,563.6 588.0,561.4 588.1,559.0 588.1,556.5 588.1,553.8 588.1,550.9 588.1,547.8 588.1,544.6 588.1,541.1 588.1,537.4 588.1,533.5 588.1,529.4 588.1,525.1 588.1,520.5 588.1,515.7 588.1,510.6 588.1,505.3 588.1,499.7 588.1,493.9 588.1,487.8 588.1,481.5 588.1,475.0 588.1,468.3 588.1,461.4 588.1,454.2 588.1,447.0 588.1,439.6 588.1,432.1 588.1,424.5 588.1,416.9 588.2,409.4 588.2,401.9 588.2,394.5 588.2,387.3 588.2,380.3 588.2,373.6 588.2,367.2 588.2,361.2 588.2,355.7 588.2,350.7 588.2,346.2 588.2,342.3 588.2,339.1 588.2,336.5 588.2,334.7 588.2,333.6 588.2,333.2 588.2,333.6 588.2,334.7 588.2,336.5 588.2,339.1 588.2,342.3 588.2,346.2 588.2,350.7 588.2,355.7 588.2,361.2 588.2,367.2 588.2,373.6 588.2,380.3 588.2,387.3 588.2,394.5 588.2,401.9 588.2,409.4 588.2,416.9 588.2,424.5 588.2,432.1 588.2,439.6 588.2,447.0 588.2,454.2 588.2,461.4 588.2,468.3 588.2,475.0 588.2,481.5 588.2,487.8 588.2,493.9 588.2,499.7 588.3,505.3 588.3,510.6 588.3,515.7 588.3,520.5 588.3,525.1 588.3,529.4 588.3,533.5 588.3,537.4 588.3,541.1 588.3,544.6 588.3,547.8 588.3,550.9 588.3,553.8 588.3,556.5 588.3,559.0 588.3,561.4 588.3,563.6 588.3,565.7 588.3,567.6 588.3,569.5 588.3,571.2 588.4,572.7 588.4,574.2 588.4,575.6 588.4,576.9 588.4,578.1 588.4,579.2 588.4,580.3 588.4,581.2 588.4,582.1 588.4,583.0 588.4,583.7 588.4,584.5 588.5,585.1 588.5,585.8 588.5,586.4 588.5,586.9 588.5,587.4 588.5,587.9 588.5,588.3 588.5,588.7 588.5,589.1 588.6,589.4 588.6,589.8 588.6,590.1 588.6,590.3 588.6,590.6 588.6,590.8 588.7,591.1 588.7,591.3 588.7,591.4 588.7,591.6 588.7,591.8 588.8,591.9 588.8,592.1 588.8,592.2 588.8,592.3 588.9,592.5 588.9,592.6 588.9,592.7 588.9,592.7" fill="none" stroke="#0000ff" stroke-width="2.1" stroke-linejoin="round"/>
<polyline points="607.7,592.7 607.7,592.7 607.7,592.6 607.8,592.5 607.8,592.3 607.8,592.2 607.9,592.1 607.9,591.9 607.9,591.8 608.0,591.6 608.0,591.4 608.0,591.3 608.0,591.1 608.1,590.8 608.1,590.6 608.1,590.3 608.1,590.1 608.2,589.8 608.2,589.4 608.2,589.1 608.2,588.7 608.2,588.3 608.2,587.9 608.3,587.4 608.3,586.9 608.3,586.4 608.3,585.8 608.3,585.1 608.3,584.5 608.4,583.7 608.4,583.0 608.4,582.1 608.4,581.2 608.4,580.3 608.4,579.2 608.4,578.1 608.4,576.9 608.4,575.6 608.5,574.2 608.5,572.7 608.5,571.2 608.5,569.5 608.5,567.6 608.5,565.7 608.5,563.6 608.5,561.4 608.5,559.0 608.5,556.5 608.5,553.8 608.5,550.9 608.6,547.8 608.6,544.6 608.6,541.1 608.6,537.4 608.6,533.5 608.6,529.4 608.6,525.1 608.6,520.5 608.6,515.7 608.6,510.6 608.6,505.3 608.6,499.7 608.6,493.9 608.6,487.8 608.6,481.5 608.6,475.0 608.6,468.3 608.6,461.4 608.6,454.2 608.6,447.0 608.6,439.6 608.6,432.1 608.7,424.5 608.7,416.9 608.7,409.4 608.7,401.9 608.7,394.5 608.7,387.3 608.7,380.3 608.7,373.6 608.7,367.2 608.7,361.2 608.7,355.7 608.7,350.7 608.7,346.2 608.7,342.3 608.7,339.1 608.7,336.5 608.7,334.7 608.7,333.6 608.7,333.2 608.7,333.6 608.7,334.7 608.7,336.5 608.7,339.1 608.7,342.3 608.7,346.2 608.7,350.7 608.7,355.7 608.7,361.2 608.7,367.2 608.7,373.6 608.7,380.3 608.7,387.3 608.7,394.5 608.7,401.9 608.7,409.4 608.8,416.9 608.8,424.5 608.8,432.1 608.8,439.6 608.8,447.0 608.8,454.2 608.8,461.4 608.8,468.3 608.8,475.0 608.8,481.5 608.8,487.8 608.8,493.9 608.8,499.7 608.8,505.3 608.8,510.6 608.8,515.7 608.8,520.5 608.8,525.1 608.8,529.4 608.8,533.5 608.8,537.4 608.8,541.1 608.8,544.6 608.9,547.8 608.9,550.9 608.9,553.8 608.9,556.5 608.9,559.0 608.9,561.4 608.9,563.6 608.9,565.7 608.9,567.6 608.9,569.5 608.9,571.2 608.9,572.7 608.9,574.2 609.0,575.6 609.0,576.9 609.0,578.1 609.0,579.2 609.0,580.3 609.0,581.2 609.0,582.1 609.0,583.0 609.0,583.7 609.1,584.5 609.1,585.1 609.1,585.8 609.1,586.4 609.1,586.9 609.1,587.4 609.2,587.9 609.2,588.3 609.2,588.7 609.2,589.1 609.2,589.4 609.3,589.8 609.3,590.1 609.3,590.3 609.3,590.6 609.3,590.8 609.4,591.1 609.4,591.3 609.4,591.4 609.4,591.6 609.5,591.8 609.5,591.9 609.5,592.1 609.6,592.2 609.6,592.3 609.6,592.5 609.7,592.6 609.7,592.7 609.8,592.7" fill="none" stroke="#00ffff" stroke-width="2.1" stroke-linejoin="round"/>
<polyline points="625.4,592.7 625.5,592.7 625.5,592.6 625.6,592.5 625.7,592.3 625.7,592.2 625.8,592.1 625.8,591.9 625.9,591.8 625.9,591.6 626.0,591.4 626.0,591.3 626.1,591.1 626.1,590.8 626.2,590.6 626.2,590.3 626.3,590.1 626.3,589.8 626.3,589.4 626.4,589.1 626.4,588.7 626.5,588.3 626.5,587.9 626.5,587.4 626.5,586.9 626.6,586.4 626.6,585.8 626.6,585.1 626.7,584.5 626.7,583.7 626.7,583.0 626.7,582.1 626.8,581.2 626.8,580.3 626.8,579.2 626.8,578.1 626.8,576.9 626.9,575.6 626.9,574.2 626.9,572.7 626.9,571.2 626.9,569.5 626.9,567.6 627.0,565.7 627.0,563.6 627.0,561.4 627.0,559.0 627.0,556.5 627.0,553.8 627.0,550.9 627.0,547.8 627.1,544.6 627.1,541.1 627.1,537.4 627.1,533.5 627.1,529.4 627.1,525.1 627.1,520.5 627.1,515.7 627.1,510.6 627.1,505.3 627.2,499.7 627.2,493.9 627.2,487.8 627.2,481.5 627.2,475.0 627.2,468.3 627.2,461.4 627.2,454.2 627.2,447.0 627.2,439.6 627.2,432.1 627.2,424.5 627.2,416.9 627.2,409.4 627.3,401.9 627.3,394.5 627.3,387.3 627.3,380.3 627.3,373.6 627.3,367.2 627.3,361.2 627.3,355.7 627.3,350.7 627.3,346.2 627.3,342.3 627.3,339.1 627.3,336.5 627.3,334.7 627.3,333.6 627.3,333.2 627.3,333.6 627.3,334.7 627.3,336.5 627.3,339.1 627.4,342.3 627.4,346.2 627.4,350.7 627.4,355.7 627.4,361.2 627.4,367.2 627.4,373.6 627.4,380.3 627.4,387.3 627.4,394.5 627.4,401.9 627.4,409.4 627.4,416.9 627.4,424.5 627.4,432.1 627.4,439.6 627.4,447.0 627.4,454.2 627.5,461.4 627.5,468.3 627.5,475.0 627.5,481.5 627.5,487.8 627.5,493.9 627.5,499.7 627.5,505.3 627.5,510.6 627.5,515.7 627.5,520.5 627.5,525.1 627.6,529.4 627.6,533.5 627.6,537.4 627.6,541.1 627.6,544.6 627.6,547.8 627.6,550.9 627.6,553.8 627.6,556.5 627.7,559.0 627.7,561.4 627.7,563.6 627.7,565.7 627.7,567.6 627.7,569.5 627.7,571.2 627.8,572.7 627.8,574.2 627.8,575.6 627.8,576.9 627.8,578.1 627.9,579.2 627.9,580.3 627.9,581.2 627.9,582.1 627.9,583.0 628.0,583.7 628.0,584.5 628.0,585.1 628.1,585.8 628.1,586.4 628.1,586.9 628.1,587.4 628.2,587.9 628.2,588.3 628.2,588.7 628.3,589.1 628.3,589.4 628.4,589.8 628.4,590.1 628.4,590.3 628.5,590.6 628.5,590.8 628.6,591.1 628.6,591.3 628.7,591.4 628.7,591.6 628.8,591.8 628.8,591.9 628.9,592.1 628.9,592.2 629.0,592.3 629.1,592.5 629.1,592.6 629.2,592.7 629.3,592.7" fill="none" stroke="#ff00ff" stroke-width="2.1" stroke-linejoin="round"/>
<polyline points="641.8,592.7 641.9,592.7 642.0,592.6 642.1,592.5 642.2,592.3 642.3,592.2 642.3,592.1 642.4,591.9 642.5,591.8 642.5,591.6 642.6,591.4 642.7,591.3 642.7,591.1 642.8,590.8 642.8,590.6 642.9,590.3 642.9,590.1 643.0,589.8 643.0,589.4 643.1,589.1 643.1,588.7 643.2,588.3 643.2,587.9 643.2,587.4 643.3,586.9 643.3,586.4 643.4,585.8 643.4,585.1 643.4,584.5 643.4,583.7 643.5,583.0 643.5,582.1 643.5,581.2 643.6,580.3 643.6,579.2 643.6,578.1 643.6,576.9 643.7,575.6 643.7,574.2 643.7,572.7 643.7,571.2 643.7,569.5 643.8,567.6 643.8,565.7 643.8,563.6 643.8,561.4 643.8,559.0 643.9,556.5 643.9,553.8 643.9,550.9 643.9,547.8 643.9,544.6 643.9,541.1 643.9,537.4 644.0,533.5 644.0,529.4 644.0,525.1 644.0,520.5 644.0,515.7 644.0,510.6 644.0,505.3 644.0,499.7 644.0,493.9 644.1,487.8 644.1,481.5 644.1,475.0 644.1,468.3 644.1,461.4 644.1,454.2 644.1,447.0 644.1,439.6 644.1,432.1 644.1,424.5 644.1,416.9 644.1,409.4 644.1,401.9 644.2,394.5 644.2,387.3 644.2,380.3 644.2,373.6 644.2,367.2 644.2,361.2 644.2,355.7 644.2,350.7 644.2,346.2 644.2,342.3 644.2,339.1 644.2,336.5 644.2,334.7 644.2,333.6 644.2,333.2 644.3,333.6 644.3,334.7 644.3,336.5 644.3,339.1 644.3,342.3 644.3,346.2 644.3,350.7 644.3,355.7 644.3,361.2 644.3,367.2 644.3,373.6 644.3,380.3 644.3,387.3 644.3,394.5 644.3,401.9 644.3,409.4 644.4,416.9 644.4,424.5 644.4,432.1 644.4,439.6 644.4,447.0 644.4,454.2 644.4,461.4 644.4,468.3 644.4,475.0 644.4,481.5 644.4,487.8 644.4,493.9 644.5,499.7 644.5,505.3 644.5,510.6 644.5,515.7 644.5,520.5 644.5,525.1 644.5,529.4 644.5,533.5 644.5,537.4 644.6,541.1 644.6,544.6 644.6,547.8 644.6,550.9 644.6,553.8 644.6,556.5 644.7,559.0 644.7,561.4 644.7,563.6 644.7,565.7 644.7,567.6 644.7,569.5 644.8,571.2 644.8,572.7 644.8,574.2 644.8,575.6 644.9,576.9 644.9,578.1 644.9,579.2 644.9,580.3 645.0,581.2 645.0,582.1 645.0,583.0 645.0,583.7 645.1,584.5 645.1,585.1 645.1,585.8 645.2,586.4 645.2,586.9 645.2,587.4 645.3,587.9 645.3,588.3 645.4,588.7 645.4,589.1 645.5,589.4 645.5,589.8 645.6,590.1 645.6,590.3 645.7,590.6 645.7,590.8 645.8,591.1 645.8,591.3 645.9,591.4 646.0,591.6 646.0,591.8 646.1,591.9 646.2,592.1 646.2,592.2 646.3,592.3 646.4,592.5 646.5,592.6 646.6,592.7 646.6,592.7" fill="none" stroke="#ffff00" stroke-width="2.1" stroke-linejoin="round"/>
<polyline points="656.5,592.7 656.6,592.7 656.7,592.6 656.8,592.5 656.9,592.3 657.0,592.2 657.1,592.1 657.2,591.9 657.3,591.8 657.4,591.6 657.5,591.4 657.6,591.3 657.6,591.1 657.7,590.8 657.8,590.6 657.9,590.3 657.9,590.1 658.0,589.8 658.0,589.4 658.1,589.1 658.2,588.7 658.2,588.3 658.3,587.9 658.3,587.4 658.4,586.9 658.4,586.4 658.5,585.8 658.5,585.1 658.5,584.5 658.6,583.7 658.6,583.0 658.7,582.1 658.7,581.2 658.7,580.3 658.8,579.2 658.8,578.1 658.8,576.9 658.9,575.6 658.9,574.2 658.9,572.7 659.0,571.2 659.0,569.5 659.0,567.6 659.0,565.7 659.1,563.6 659.1,561.4 659.1,559.0 659.1,556.5 659.1,553.8 659.2,550.9 659.2,547.8 659.2,544.6 659.2,541.1 659.2,537.4 659.3,533.5 659.3,529.4 659.3,525.1 659.3,520.5 659.3,515.7 659.3,510.6 659.3,505.3 659.4,499.7 659.4,493.9 659.4,487.8 659.4,481.5 659.4,475.0 659.4,468.3 659.4,461.4 659.4,454.2 659.4,447.0 659.5,439.6 659.5,432.1 659.5,424.5 659.5,416.9 659.5,409.4 659.5,401.9 659.5,394.5 659.5,387.3 659.5,380.3 659.5,373.6 659.6,367.2 659.6,361.2 659.6,355.7 659.6,350.7 659.6,346.2 659.6,342.3 659.6,339.1 659.6,336.5 659.6,334.7 659.6,333.6 659.6,333.2 659.6,333.6 659.6,334.7 659.7,336.5 659.7,339.1 659.7,342.3 659.7,346.2 659.7,350.7 659.7,355.7 659.7,361.2 659.7,367.2 659.7,373.6 659.7,380.3 659.7,387.3 659.8,394.5 659.8,401.9 659.8,409.4 659.8,416.9 659.8,424.5 659.8,432.1 659.8,439.6 659.8,447.0 659.8,454.2 659.8,461.4 659.9,468.3 659.9,475.0 659.9,481.5 659.9,487.8 659.9,493.9 659.9,499.7 659.9,505.3 659.9,510.6 660.0,515.7 660.0,520.5 660.0,525.1 660.0,529.4 660.0,533.5 660.0,537.4 660.1,541.1 660.1,544.6 660.1,547.8 660.1,550.9 660.1,553.8 660.1,556.5 660.2,559.0 660.2,561.4 660.2,563.6 660.2,565.7 660.3,567.6 660.3,569.5 660.3,571.2 660.3,572.7 660.4,574.2 660.4,575.6 660.4,576.9 660.5,578.1 660.5,579.2 660.5,580.3 660.6,581.2 660.6,582.1 660.6,583.0 660.7,583.7 660.7,584.5 660.8,585.1 660.8,585.8 660.9,586.4 660.9,586.9 660.9,587.4 661.0,587.9 661.1,588.3 661.1,588.7 661.2,589.1 661.2,589.4 661.3,589.8 661.3,590.1 661.4,590.3 661.5,590.6 661.6,590.8 661.6,591.1 661.7,591.3 661.8,591.4 661.9,591.6 662.0,591.8 662.0,591.9 662.1,592.1 662.2,592.2 662.3,592.3 662.4,592.5 662.6,592.6 662.7,592.7 662.8,592.7" fill="none" stroke="#808000" stroke-width="2.1" stroke-linejoin="round"/>
</g>
<rect x="414.5" y="335.8" width="262.6" height="258.1" fill="none" stroke="#000" stroke-width="2.3"/>
<line x1="409.5" y1="593.9" x2="414.5" y2="593.9" stroke="#000" stroke-width="2"/>
<text transform="translate(406.9,597.5) scale(0.745,1)" font-size="15" font-weight="bold" text-anchor="end" fill="#000">0</text>
<line x1="409.5" y1="568.09" x2="414.5" y2="568.09" stroke="#000" stroke-width="2"/>
<text transform="translate(406.9,571.69) scale(0.745,1)" font-size="15" font-weight="bold" text-anchor="end" fill="#000">10</text>
<line x1="409.5" y1="542.28" x2="414.5" y2="542.28" stroke="#000" stroke-width="2"/>
<text transform="translate(406.9,545.88) scale(0.745,1)" font-size="15" font-weight="bold" text-anchor="end" fill="#000">20</text>
<line x1="409.5" y1="516.47" x2="414.5" y2="516.47" stroke="#000" stroke-width="2"/>
<text transform="translate(406.9,520.07) scale(0.745,1)" font-size="15" font-weight="bold" text-anchor="end" fill="#000">30</text>
<line x1="409.5" y1="490.66" x2="414.5" y2="490.66" stroke="#000" stroke-width="2"/>
<text transform="translate(406.9,494.26) scale(0.745,1)" font-size="15" font-weight="bold" text-anchor="end" fill="#000">40</text>
<line x1="409.5" y1="464.85" x2="414.5" y2="464.85" stroke="#000" stroke-width="2"/>
<text transform="translate(406.9,468.45) scale(0.745,1)" font-size="15" font-weight="bold" text-anchor="end" fill="#000">50</text>
<line x1="409.5" y1="439.04" x2="414.5" y2="439.04" stroke="#000" stroke-width="2"/>
<text transform="translate(406.9,442.64) scale(0.745,1)" font-size="15" font-weight="bold" text-anchor="end" fill="#000">60</text>
<line x1="409.5" y1="413.23" x2="414.5" y2="413.23" stroke="#000" stroke-width="2"/>
<text transform="translate(406.9,416.83) scale(0.745,1)" font-size="15" font-weight="bold" text-anchor="end" fill="#000">70</text>
<line x1="409.5" y1="387.42" x2="414.5" y2="387.42" stroke="#000" stroke-width="2"/>
<text transform="translate(406.9,391.02) scale(0.745,1)" font-size="15" font-weight="bold" text-anchor="end" fill="#000">80</text>
<line x1="409.5" y1="361.61" x2="414.5" y2="361.61" stroke="#000" stroke-width="2"/>
<text transform="translate(406.9,365.21) scale(0.745,1)" font-size="15" font-weight="bold" text-anchor="end" fill="#000">90</text>
<line x1="409.5" y1="335.8" x2="414.5" y2="335.8" stroke="#000" stroke-width="2"/>
<text transform="translate(406.9,339.4) scale(0.745,1)" font-size="15" font-weight="bold" text-anchor="end" fill="#000">100</text>
<line x1="414.5" y1="593.9" x2="414.5" y2="599.9" stroke="#000" stroke-width="2"/>
<text transform="translate(414.5,612.5) scale(0.745,1)" font-size="15" font-weight="bold" text-anchor="middle" fill="#000">350</text>
<line x1="445.03" y1="593.9" x2="445.03" y2="599.9" stroke="#000" stroke-width="2"/>
<text transform="translate(445.03,612.5) scale(0.745,1)" font-size="15" font-weight="bold" text-anchor="middle" fill="#000">400</text>
<line x1="475.57" y1="593.9" x2="475.57" y2="599.9" stroke="#000" stroke-width="2"/>
<text transform="translate(475.57,612.5) scale(0.745,1)" font-size="15" font-weight="bold" text-anchor="middle" fill="#000">450</text>
<line x1="506.1" y1="593.9" x2="506.1" y2="599.9" stroke="#000" stroke-width="2"/>
<text transform="translate(506.1,612.5) scale(0.745,1)" font-size="15" font-weight="bold" text-anchor="middle" fill="#000">500</text>
<line x1="536.64" y1="593.9" x2="536.64" y2="599.9" stroke="#000" stroke-width="2"/>
<text transform="translate(536.64,612.5) scale(0.745,1)" font-size="15" font-weight="bold" text-anchor="middle" fill="#000">550</text>
<line x1="567.17" y1="593.9" x2="567.17" y2="599.9" stroke="#000" stroke-width="2"/>
<text transform="translate(567.17,612.5) scale(0.745,1)" font-size="15" font-weight="bold" text-anchor="middle" fill="#000">600</text>
<line x1="597.71" y1="593.9" x2="597.71" y2="599.9" stroke="#000" stroke-width="2"/>
<text transform="translate(597.71,612.5) scale(0.745,1)" font-size="15" font-weight="bold" text-anchor="middle" fill="#000">650</text>
<line x1="628.24" y1="593.9" x2="628.24" y2="599.9" stroke="#000" stroke-width="2"/>
<text transform="translate(628.24,612.5) scale(0.745,1)" font-size="15" font-weight="bold" text-anchor="middle" fill="#000">700</text>
<line x1="658.78" y1="593.9" x2="658.78" y2="599.9" stroke="#000" stroke-width="2"/>
<text transform="translate(658.78,612.5) scale(0.745,1)" font-size="15" font-weight="bold" text-anchor="middle" fill="#000">750</text>
<text transform="translate(539.1,632.5) scale(0.82,1)" font-size="19.5" font-weight="bold" text-anchor="middle" fill="#000">Wavelength (nm)</text>
<text transform="translate(380,477.6) rotate(-90) scale(1,0.85)" font-size="19.5" font-weight="bold" text-anchor="middle" textLength="162.5" lengthAdjust="spacingAndGlyphs">Trnasmission (%)</text>
<text transform="translate(426.4,370.4) scale(0.765,1)" font-size="15.9" font-weight="bold" text-anchor="start" fill="#000">(d)</text>
<text transform="translate(426.4,392.4) scale(0.78,1)" font-size="15" font-weight="bold"><tspan font-weight="normal" dy="0.9">θ</tspan><tspan dy="-0.9">=</tspan>45</text>
<ellipse cx="454.97" cy="382" rx="1.5" ry="1.9" fill="none" stroke="#000" stroke-width="1.0"/>
<line x1="426" y1="408.1" x2="459" y2="408.1" stroke="#000000" stroke-width="2.6"/>
<text transform="translate(462.4,413.2) scale(0.775,1)" font-size="15.5" font-weight="bold" text-anchor="start" fill="#000">T=20</text>
<ellipse cx="493.11" cy="402" rx="1.75" ry="2.65" fill="none" stroke="#000" stroke-width="1.15"/>
<text transform="translate(496.11,413.2) scale(0.775,1)" font-size="15.5" font-weight="bold" text-anchor="start" fill="#000">C</text>
<line x1="426" y1="429.77" x2="459" y2="429.77" stroke="#ff0000" stroke-width="2.6"/>
<text transform="translate(462.4,434.87) scale(0.775,1)" font-size="15.5" font-weight="bold" text-anchor="start" fill="#000">T=25</text>
<ellipse cx="493.11" cy="423.67" rx="1.75" ry="2.65" fill="none" stroke="#000" stroke-width="1.15"/>
<text transform="translate(496.11,434.87) scale(0.775,1)" font-size="15.5" font-weight="bold" text-anchor="start" fill="#000">C</text>
<line x1="426" y1="451.44" x2="459" y2="451.44" stroke="#00ff00" stroke-width="2.6"/>
<text transform="translate(462.4,456.54) scale(0.775,1)" font-size="15.5" font-weight="bold" text-anchor="start" fill="#000">T=30</text>
<ellipse cx="493.11" cy="445.34" rx="1.75" ry="2.65" fill="none" stroke="#000" stroke-width="1.15"/>
<text transform="translate(496.11,456.54) scale(0.775,1)" font-size="15.5" font-weight="bold" text-anchor="start" fill="#000">C</text>
<line x1="426" y1="473.11" x2="459" y2="473.11" stroke="#0000ff" stroke-width="2.6"/>
<text transform="translate(462.4,478.21) scale(0.775,1)" font-size="15.5" font-weight="bold" text-anchor="start" fill="#000">T=35</text>
<ellipse cx="493.11" cy="467.01" rx="1.75" ry="2.65" fill="none" stroke="#000" stroke-width="1.15"/>
<text transform="translate(496.11,478.21) scale(0.775,1)" font-size="15.5" font-weight="bold" text-anchor="start" fill="#000">C</text>
<line x1="426" y1="494.78" x2="459" y2="494.78" stroke="#00ffff" stroke-width="2.6"/>
<text transform="translate(462.4,499.88) scale(0.775,1)" font-size="15.5" font-weight="bold" text-anchor="start" fill="#000">T=40</text>
<ellipse cx="493.11" cy="488.68" rx="1.75" ry="2.65" fill="none" stroke="#000" stroke-width="1.15"/>
<text transform="translate(496.11,499.88) scale(0.775,1)" font-size="15.5" font-weight="bold" text-anchor="start" fill="#000">C</text>
<line x1="426" y1="516.45" x2="459" y2="516.45" stroke="#ff00ff" stroke-width="2.6"/>
<text transform="translate(462.4,521.55) scale(0.775,1)" font-size="15.5" font-weight="bold" text-anchor="start" fill="#000">T=45</text>
<ellipse cx="493.11" cy="510.35" rx="1.75" ry="2.65" fill="none" stroke="#000" stroke-width="1.15"/>
<text transform="translate(496.11,521.55) scale(0.775,1)" font-size="15.5" font-weight="bold" text-anchor="start" fill="#000">C</text>
<line x1="426" y1="538.12" x2="459" y2="538.12" stroke="#ffff00" stroke-width="2.6"/>
<text transform="translate(462.4,543.22) scale(0.775,1)" font-size="15.5" font-weight="bold" text-anchor="start" fill="#000">T=50</text>
<ellipse cx="493.11" cy="532.02" rx="1.75" ry="2.65" fill="none" stroke="#000" stroke-width="1.15"/>
<text transform="translate(496.11,543.22) scale(0.775,1)" font-size="15.5" font-weight="bold" text-anchor="start" fill="#000">C</text>
<line x1="426" y1="559.79" x2="459" y2="559.79" stroke="#808000" stroke-width="2.6"/>
<text transform="translate(462.4,564.89) scale(0.775,1)" font-size="15.5" font-weight="bold" text-anchor="start" fill="#000">T=55</text>
<ellipse cx="493.11" cy="553.69" rx="1.75" ry="2.65" fill="none" stroke="#000" stroke-width="1.15"/>
<text transform="translate(496.11,564.89) scale(0.775,1)" font-size="15.5" font-weight="bold" text-anchor="start" fill="#000">C</text>
<clipPath id="clipe"><rect x="48.1" y="658.5" width="271.6" height="270"/></clipPath>
<g clip-path="url(#clipe)">
<polyline points="249.2,927.4 251.4,927.4 253.5,927.4 255.4,927.4 257.3,927.4 259.0,927.4 260.7,927.4 262.2,927.4 263.7,927.3 265.1,927.3 266.4,927.3 267.7,927.3 268.9,927.3 270.0,927.2 271.0,927.2 272.0,927.2 273.0,927.1 273.9,927.1 274.7,927.0 275.5,927.0 276.2,926.9 277.0,926.8 277.6,926.8 278.3,926.7 278.9,926.6 279.4,926.5 280.0,926.4 280.5,926.3 280.9,926.1 281.4,926.0 281.8,925.8 282.2,925.7 282.6,925.5 283.0,925.2 283.3,925.0 283.6,924.7 283.9,924.5 284.2,924.1 284.5,923.8 284.8,923.4 285.0,923.0 285.2,922.5 285.5,921.9 285.7,921.4 285.9,920.7 286.0,920.0 286.2,919.2 286.4,918.3 286.5,917.3 286.7,916.2 286.8,914.9 287.0,913.6 287.1,912.0 287.2,910.4 287.3,908.5 287.4,906.4 287.5,904.1 287.6,901.5 287.7,898.7 287.8,895.6 287.9,892.1 288.0,888.3 288.0,884.1 288.1,879.5 288.2,874.5 288.2,869.0 288.3,862.9 288.3,856.4 288.4,849.3 288.4,841.7 288.5,833.5 288.5,824.7 288.6,815.3 288.6,805.5 288.7,795.1 288.7,784.2 288.8,773.0 288.8,761.5 288.8,749.8 288.9,738.0 288.9,726.4 288.9,715.0 289.0,704.1 289.0,693.9 289.0,684.5 289.0,676.2 289.1,669.1 289.1,663.3 289.1,659.2 289.2,656.6 289.2,655.7 289.2,656.2 289.2,658.8 289.3,662.9 289.3,668.7 289.3,675.8 289.4,684.1 289.4,693.5 289.4,703.7 289.5,714.6 289.5,726.0 289.5,737.6 289.6,749.4 289.6,761.1 289.6,772.6 289.7,783.8 289.7,794.7 289.7,805.0 289.8,814.9 289.8,824.3 289.9,833.1 289.9,841.3 290.0,848.9 290.0,856.0 290.1,862.5 290.2,868.5 290.2,874.0 290.3,879.1 290.4,883.7 290.4,887.9 290.5,891.7 290.6,895.1 290.7,898.2 290.8,901.1 290.9,903.6 291.0,905.9 291.1,908.0 291.2,909.9 291.3,911.5 291.4,913.0 291.5,914.4 291.7,915.6 291.8,916.7 292.0,917.7 292.2,918.6 292.3,919.4 292.5,920.1 292.7,920.7 292.9,921.3 293.1,921.8 293.4,922.2 293.6,922.6 293.9,923.0 294.1,923.3 294.4,923.6 294.7,923.9 295.1,924.1 295.4,924.3 295.8,924.5 296.1,924.7 296.6,924.9 297.0,925.0 297.4,925.1 297.9,925.3 298.4,925.4 299.0,925.5 299.5,925.5 300.1,925.6 300.8,925.7 301.4,925.8 302.1,925.9 302.9,925.9 303.7,926.0 304.5,926.0 305.4,926.1 306.4,926.2 307.4,926.2 308.4,926.3 309.5,926.3 310.7,926.4 311.9,926.4 313.3,926.5 314.7,926.5 316.1,926.6 317.7,926.6 319.4,926.7 321.1,926.7 323.0,926.8 324.9,926.8 327.0,926.9 329.2,926.9" fill="none" stroke="#000000" stroke-width="2.1" stroke-linejoin="round"/>
<polyline points="258.6,926.3 258.7,926.2 258.8,926.1 258.9,926.0 259.0,925.9 259.0,925.8 259.1,925.6 259.2,925.5 259.2,925.3 259.3,925.1 259.4,925.0 259.4,924.8 259.5,924.5 259.5,924.3 259.6,924.1 259.6,923.8 259.7,923.5 259.7,923.2 259.8,922.9 259.8,922.5 259.8,922.1 259.9,921.7 259.9,921.2 260.0,920.8 260.0,920.2 260.0,919.7 260.1,919.1 260.1,918.4 260.1,917.7 260.2,917.0 260.2,916.1 260.2,915.3 260.2,914.3 260.3,913.3 260.3,912.3 260.3,911.1 260.3,909.8 260.4,908.5 260.4,907.1 260.4,905.5 260.4,903.9 260.4,902.1 260.5,900.2 260.5,898.2 260.5,896.0 260.5,893.7 260.5,891.3 260.5,888.6 260.5,885.8 260.6,882.8 260.6,879.7 260.6,876.3 260.6,872.7 260.6,868.9 260.6,864.8 260.6,860.5 260.6,856.0 260.7,851.3 260.7,846.3 260.7,841.0 260.7,835.5 260.7,829.7 260.7,823.7 260.7,817.4 260.7,810.8 260.7,804.1 260.7,797.1 260.8,789.9 260.8,782.5 260.8,774.9 260.8,767.3 260.8,759.5 260.8,751.6 260.8,743.8 260.8,735.9 260.8,728.1 260.8,720.4 260.8,712.9 260.8,705.7 260.8,698.7 260.8,692.1 260.8,685.9 260.9,680.1 260.9,674.9 260.9,670.3 260.9,666.3 260.9,662.9 260.9,660.3 260.9,658.4 260.9,657.2 260.9,656.8 260.9,657.2 260.9,658.4 260.9,660.3 260.9,662.9 260.9,666.3 260.9,670.3 260.9,674.9 260.9,680.1 261.0,685.9 261.0,692.1 261.0,698.7 261.0,705.7 261.0,712.9 261.0,720.4 261.0,728.1 261.0,735.9 261.0,743.8 261.0,751.6 261.0,759.5 261.0,767.3 261.0,774.9 261.0,782.5 261.0,789.9 261.1,797.1 261.1,804.1 261.1,810.8 261.1,817.4 261.1,823.7 261.1,829.7 261.1,835.5 261.1,841.0 261.1,846.3 261.1,851.3 261.1,856.0 261.2,860.5 261.2,864.8 261.2,868.9 261.2,872.7 261.2,876.3 261.2,879.7 261.2,882.8 261.3,885.8 261.3,888.6 261.3,891.3 261.3,893.7 261.3,896.0 261.3,898.2 261.3,900.2 261.4,902.1 261.4,903.9 261.4,905.5 261.4,907.1 261.4,908.5 261.5,909.8 261.5,911.1 261.5,912.3 261.5,913.3 261.6,914.3 261.6,915.3 261.6,916.1 261.6,917.0 261.7,917.7 261.7,918.4 261.7,919.1 261.8,919.7 261.8,920.2 261.8,920.8 261.9,921.2 261.9,921.7 262.0,922.1 262.0,922.5 262.0,922.9 262.1,923.2 262.1,923.5 262.2,923.8 262.2,924.1 262.3,924.3 262.3,924.5 262.4,924.8 262.4,925.0 262.5,925.1 262.6,925.3 262.6,925.5 262.7,925.6 262.8,925.8 262.8,925.9 262.9,926.0 263.0,926.1 263.1,926.2 263.1,926.3" fill="none" stroke="#ff0000" stroke-width="2.1" stroke-linejoin="round"/>
<polyline points="225.5,926.3 225.5,926.2 225.6,926.1 225.6,926.0 225.6,925.9 225.7,925.8 225.7,925.6 225.8,925.5 225.8,925.3 225.8,925.1 225.9,925.0 225.9,924.8 225.9,924.5 225.9,924.3 226.0,924.1 226.0,923.8 226.0,923.5 226.0,923.2 226.1,922.9 226.1,922.5 226.1,922.1 226.1,921.7 226.2,921.2 226.2,920.8 226.2,920.2 226.2,919.7 226.2,919.1 226.2,918.4 226.3,917.7 226.3,917.0 226.3,916.1 226.3,915.3 226.3,914.3 226.3,913.3 226.3,912.3 226.4,911.1 226.4,909.8 226.4,908.5 226.4,907.1 226.4,905.5 226.4,903.9 226.4,902.1 226.4,900.2 226.4,898.2 226.5,896.0 226.5,893.7 226.5,891.3 226.5,888.6 226.5,885.8 226.5,882.8 226.5,879.7 226.5,876.3 226.5,872.7 226.5,868.9 226.5,864.8 226.5,860.5 226.5,856.0 226.5,851.3 226.6,846.3 226.6,841.0 226.6,835.5 226.6,829.7 226.6,823.7 226.6,817.4 226.6,810.8 226.6,804.1 226.6,797.1 226.6,789.9 226.6,782.5 226.6,774.9 226.6,767.3 226.6,759.5 226.6,751.6 226.6,743.8 226.6,735.9 226.6,728.1 226.6,720.4 226.6,712.9 226.6,705.7 226.6,698.7 226.6,692.1 226.6,685.9 226.7,680.1 226.7,674.9 226.7,670.3 226.7,666.3 226.7,662.9 226.7,660.3 226.7,658.4 226.7,657.2 226.7,656.8 226.7,657.2 226.7,658.4 226.7,660.3 226.7,662.9 226.7,666.3 226.7,670.3 226.7,674.9 226.7,680.1 226.7,685.9 226.7,692.1 226.7,698.7 226.7,705.7 226.7,712.9 226.7,720.4 226.7,728.1 226.7,735.9 226.7,743.8 226.7,751.6 226.7,759.5 226.7,767.3 226.7,774.9 226.8,782.5 226.8,789.9 226.8,797.1 226.8,804.1 226.8,810.8 226.8,817.4 226.8,823.7 226.8,829.7 226.8,835.5 226.8,841.0 226.8,846.3 226.8,851.3 226.8,856.0 226.8,860.5 226.8,864.8 226.8,868.9 226.8,872.7 226.8,876.3 226.8,879.7 226.9,882.8 226.9,885.8 226.9,888.6 226.9,891.3 226.9,893.7 226.9,896.0 226.9,898.2 226.9,900.2 226.9,902.1 226.9,903.9 226.9,905.5 227.0,907.1 227.0,908.5 227.0,909.8 227.0,911.1 227.0,912.3 227.0,913.3 227.0,914.3 227.0,915.3 227.1,916.1 227.1,917.0 227.1,917.7 227.1,918.4 227.1,919.1 227.1,919.7 227.2,920.2 227.2,920.8 227.2,921.2 227.2,921.7 227.2,922.1 227.3,922.5 227.3,922.9 227.3,923.2 227.3,923.5 227.4,923.8 227.4,924.1 227.4,924.3 227.4,924.5 227.5,924.8 227.5,925.0 227.5,925.1 227.6,925.3 227.6,925.5 227.6,925.6 227.7,925.8 227.7,925.9 227.7,926.0 227.8,926.1 227.8,926.2 227.9,926.3" fill="none" stroke="#00ff00" stroke-width="2.1" stroke-linejoin="round"/>
<polyline points="187.1,926.3 187.1,926.2 187.2,926.1 187.2,926.0 187.3,925.9 187.3,925.8 187.3,925.7 187.4,925.5 187.4,925.4 187.4,925.2 187.5,925.0 187.5,924.8 187.5,924.6 187.6,924.4 187.6,924.1 187.6,923.9 187.6,923.6 187.7,923.3 187.7,923.0 187.7,922.6 187.7,922.2 187.8,921.8 187.8,921.4 187.8,920.9 187.8,920.4 187.8,919.9 187.8,919.3 187.9,918.6 187.9,918.0 187.9,917.2 187.9,916.4 187.9,915.6 187.9,914.7 188.0,913.7 188.0,912.6 188.0,911.5 188.0,910.3 188.0,909.0 188.0,907.6 188.0,906.1 188.0,904.5 188.0,902.8 188.1,900.9 188.1,898.9 188.1,896.8 188.1,894.6 188.1,892.2 188.1,889.6 188.1,886.9 188.1,883.9 188.1,880.8 188.1,877.5 188.1,874.0 188.1,870.3 188.1,866.4 188.2,862.2 188.2,857.8 188.2,853.2 188.2,848.3 188.2,843.1 188.2,837.8 188.2,832.1 188.2,826.2 188.2,820.1 188.2,813.7 188.2,807.1 188.2,800.3 188.2,793.3 188.2,786.1 188.2,778.7 188.2,771.2 188.2,763.6 188.2,756.0 188.2,748.3 188.2,740.6 188.2,733.0 188.2,725.6 188.2,718.3 188.3,711.2 188.3,704.4 188.3,697.9 188.3,691.9 188.3,686.3 188.3,681.2 188.3,676.6 188.3,672.7 188.3,669.5 188.3,666.9 188.3,665.0 188.3,663.9 188.3,663.5 188.3,663.9 188.3,665.0 188.3,666.9 188.3,669.5 188.3,672.7 188.3,676.6 188.3,681.2 188.3,686.3 188.3,691.9 188.3,697.9 188.3,704.4 188.3,711.2 188.3,718.3 188.3,725.6 188.3,733.0 188.3,740.6 188.3,748.3 188.3,756.0 188.4,763.6 188.4,771.2 188.4,778.7 188.4,786.1 188.4,793.3 188.4,800.3 188.4,807.1 188.4,813.7 188.4,820.1 188.4,826.2 188.4,832.1 188.4,837.8 188.4,843.1 188.4,848.3 188.4,853.2 188.4,857.8 188.4,862.2 188.4,866.4 188.4,870.3 188.4,874.0 188.5,877.5 188.5,880.8 188.5,883.9 188.5,886.9 188.5,889.6 188.5,892.2 188.5,894.6 188.5,896.8 188.5,898.9 188.5,900.9 188.5,902.8 188.5,904.5 188.6,906.1 188.6,907.6 188.6,909.0 188.6,910.3 188.6,911.5 188.6,912.6 188.6,913.7 188.6,914.7 188.7,915.6 188.7,916.4 188.7,917.2 188.7,918.0 188.7,918.6 188.7,919.3 188.8,919.9 188.8,920.4 188.8,920.9 188.8,921.4 188.8,921.8 188.9,922.2 188.9,922.6 188.9,923.0 188.9,923.3 188.9,923.6 189.0,923.9 189.0,924.1 189.0,924.4 189.1,924.6 189.1,924.8 189.1,925.0 189.1,925.2 189.2,925.4 189.2,925.5 189.2,925.7 189.3,925.8 189.3,925.9 189.4,926.0 189.4,926.1 189.4,926.2 189.5,926.3" fill="none" stroke="#0000ff" stroke-width="2.1" stroke-linejoin="round"/>
<polyline points="146.1,926.3 146.2,926.2 146.2,926.1 146.3,926.0 146.3,925.9 146.4,925.8 146.4,925.6 146.4,925.5 146.5,925.3 146.5,925.1 146.6,925.0 146.6,924.8 146.6,924.5 146.7,924.3 146.7,924.1 146.7,923.8 146.8,923.5 146.8,923.2 146.8,922.9 146.9,922.5 146.9,922.1 146.9,921.7 146.9,921.2 147.0,920.8 147.0,920.2 147.0,919.7 147.0,919.1 147.1,918.4 147.1,917.7 147.1,917.0 147.1,916.1 147.1,915.3 147.2,914.3 147.2,913.3 147.2,912.3 147.2,911.1 147.2,909.8 147.2,908.5 147.2,907.1 147.3,905.5 147.3,903.9 147.3,902.1 147.3,900.2 147.3,898.2 147.3,896.0 147.3,893.7 147.3,891.3 147.4,888.6 147.4,885.8 147.4,882.8 147.4,879.7 147.4,876.3 147.4,872.7 147.4,868.9 147.4,864.8 147.4,860.5 147.4,856.0 147.4,851.3 147.4,846.3 147.5,841.0 147.5,835.5 147.5,829.7 147.5,823.7 147.5,817.4 147.5,810.8 147.5,804.1 147.5,797.1 147.5,789.9 147.5,782.5 147.5,774.9 147.5,767.3 147.5,759.5 147.5,751.6 147.5,743.8 147.5,735.9 147.5,728.1 147.5,720.4 147.5,712.9 147.5,705.7 147.6,698.7 147.6,692.1 147.6,685.9 147.6,680.1 147.6,674.9 147.6,670.3 147.6,666.3 147.6,662.9 147.6,660.3 147.6,658.4 147.6,657.2 147.6,656.8 147.6,657.2 147.6,658.4 147.6,660.3 147.6,662.9 147.6,666.3 147.6,670.3 147.6,674.9 147.6,680.1 147.6,685.9 147.6,692.1 147.6,698.7 147.6,705.7 147.6,712.9 147.7,720.4 147.7,728.1 147.7,735.9 147.7,743.8 147.7,751.6 147.7,759.5 147.7,767.3 147.7,774.9 147.7,782.5 147.7,789.9 147.7,797.1 147.7,804.1 147.7,810.8 147.7,817.4 147.7,823.7 147.7,829.7 147.7,835.5 147.7,841.0 147.7,846.3 147.8,851.3 147.8,856.0 147.8,860.5 147.8,864.8 147.8,868.9 147.8,872.7 147.8,876.3 147.8,879.7 147.8,882.8 147.8,885.8 147.8,888.6 147.9,891.3 147.9,893.7 147.9,896.0 147.9,898.2 147.9,900.2 147.9,902.1 147.9,903.9 147.9,905.5 147.9,907.1 148.0,908.5 148.0,909.8 148.0,911.1 148.0,912.3 148.0,913.3 148.0,914.3 148.1,915.3 148.1,916.1 148.1,917.0 148.1,917.7 148.1,918.4 148.2,919.1 148.2,919.7 148.2,920.2 148.2,920.8 148.2,921.2 148.3,921.7 148.3,922.1 148.3,922.5 148.4,922.9 148.4,923.2 148.4,923.5 148.4,923.8 148.5,924.1 148.5,924.3 148.5,924.5 148.6,924.8 148.6,925.0 148.7,925.1 148.7,925.3 148.7,925.5 148.8,925.6 148.8,925.8 148.9,925.9 148.9,926.0 149.0,926.1 149.0,926.2 149.1,926.3" fill="none" stroke="#00ffff" stroke-width="2.1" stroke-linejoin="round"/>
</g>
<rect x="48.1" y="659.5" width="271.6" height="268" fill="none" stroke="#000" stroke-width="2.3"/>
<line x1="119.62" y1="926.95" x2="318.7" y2="926.95" stroke="#00ffff" stroke-width="2.0"/>
<line x1="43.1" y1="927.5" x2="48.1" y2="927.5" stroke="#000" stroke-width="2"/>
<text transform="translate(40.5,931.1) scale(0.745,1)" font-size="15" font-weight="bold" text-anchor="end" fill="#000">0</text>
<line x1="43.1" y1="900.7" x2="48.1" y2="900.7" stroke="#000" stroke-width="2"/>
<text transform="translate(40.5,904.3) scale(0.745,1)" font-size="15" font-weight="bold" text-anchor="end" fill="#000">10</text>
<line x1="43.1" y1="873.9" x2="48.1" y2="873.9" stroke="#000" stroke-width="2"/>
<text transform="translate(40.5,877.5) scale(0.745,1)" font-size="15" font-weight="bold" text-anchor="end" fill="#000">20</text>
<line x1="43.1" y1="847.1" x2="48.1" y2="847.1" stroke="#000" stroke-width="2"/>
<text transform="translate(40.5,850.7) scale(0.745,1)" font-size="15" font-weight="bold" text-anchor="end" fill="#000">30</text>
<line x1="43.1" y1="820.3" x2="48.1" y2="820.3" stroke="#000" stroke-width="2"/>
<text transform="translate(40.5,823.9) scale(0.745,1)" font-size="15" font-weight="bold" text-anchor="end" fill="#000">40</text>
<line x1="43.1" y1="793.5" x2="48.1" y2="793.5" stroke="#000" stroke-width="2"/>
<text transform="translate(40.5,797.1) scale(0.745,1)" font-size="15" font-weight="bold" text-anchor="end" fill="#000">50</text>
<line x1="43.1" y1="766.7" x2="48.1" y2="766.7" stroke="#000" stroke-width="2"/>
<text transform="translate(40.5,770.3) scale(0.745,1)" font-size="15" font-weight="bold" text-anchor="end" fill="#000">60</text>
<line x1="43.1" y1="739.9" x2="48.1" y2="739.9" stroke="#000" stroke-width="2"/>
<text transform="translate(40.5,743.5) scale(0.745,1)" font-size="15" font-weight="bold" text-anchor="end" fill="#000">70</text>
<line x1="43.1" y1="713.1" x2="48.1" y2="713.1" stroke="#000" stroke-width="2"/>
<text transform="translate(40.5,716.7) scale(0.745,1)" font-size="15" font-weight="bold" text-anchor="end" fill="#000">80</text>
<line x1="43.1" y1="686.3" x2="48.1" y2="686.3" stroke="#000" stroke-width="2"/>
<text transform="translate(40.5,689.9) scale(0.745,1)" font-size="15" font-weight="bold" text-anchor="end" fill="#000">90</text>
<line x1="43.1" y1="659.5" x2="48.1" y2="659.5" stroke="#000" stroke-width="2"/>
<text transform="translate(40.5,663.1) scale(0.745,1)" font-size="15" font-weight="bold" text-anchor="end" fill="#000">100</text>
<line x1="48.1" y1="927.5" x2="48.1" y2="933.5" stroke="#000" stroke-width="2"/>
<text transform="translate(48.1,948) scale(0.745,1)" font-size="15" font-weight="bold" text-anchor="middle" fill="#000">500</text>
<line x1="93.37" y1="927.5" x2="93.37" y2="933.5" stroke="#000" stroke-width="2"/>
<text transform="translate(93.37,948) scale(0.745,1)" font-size="15" font-weight="bold" text-anchor="middle" fill="#000">600</text>
<line x1="138.63" y1="927.5" x2="138.63" y2="933.5" stroke="#000" stroke-width="2"/>
<text transform="translate(138.63,948) scale(0.745,1)" font-size="15" font-weight="bold" text-anchor="middle" fill="#000">700</text>
<line x1="183.9" y1="927.5" x2="183.9" y2="933.5" stroke="#000" stroke-width="2"/>
<text transform="translate(183.9,948) scale(0.745,1)" font-size="15" font-weight="bold" text-anchor="middle" fill="#000">800</text>
<line x1="229.17" y1="927.5" x2="229.17" y2="933.5" stroke="#000" stroke-width="2"/>
<text transform="translate(229.17,948) scale(0.745,1)" font-size="15" font-weight="bold" text-anchor="middle" fill="#000">900</text>
<line x1="274.43" y1="927.5" x2="274.43" y2="933.5" stroke="#000" stroke-width="2"/>
<text transform="translate(274.43,948) scale(0.745,1)" font-size="15" font-weight="bold" text-anchor="middle" fill="#000">1000</text>
<line x1="319.7" y1="927.5" x2="319.7" y2="933.5" stroke="#000" stroke-width="2"/>
<text transform="translate(319.7,948) scale(0.745,1)" font-size="15" font-weight="bold" text-anchor="middle" fill="#000">1100</text>
<text transform="translate(183.4,967.8) scale(0.835,1)" font-size="20.5" font-weight="bold" text-anchor="middle" fill="#000">Wavelength (nm)</text>
<text transform="translate(13.4,790.1) rotate(-90) scale(1,0.81)" font-size="21.1" font-weight="bold" text-anchor="middle" textLength="175.2" lengthAdjust="spacingAndGlyphs">Transmission (%)</text>
<text transform="translate(50.6,676.8) scale(0.76,1)" font-size="16.2" font-weight="bold" text-anchor="start" fill="#000">(e)</text>
<text transform="translate(50.3,700.2) scale(0.82,1)" font-size="15" font-weight="bold"><tspan font-weight="normal" dy="0.9">θ</tspan><tspan dy="-0.9">=</tspan>50</text>
<ellipse cx="80.22" cy="689.8" rx="1.5" ry="1.9" fill="none" stroke="#000" stroke-width="1.0"/>
<line x1="49.9" y1="718.3" x2="85" y2="718.3" stroke="#000000" stroke-width="2.6"/>
<text transform="translate(88.2,723.9) scale(0.73,1)" font-size="17" font-weight="bold" text-anchor="start" fill="#000">T=20</text>
<ellipse cx="120.23" cy="712.9" rx="1.6" ry="2.1" fill="none" stroke="#000" stroke-width="1.1"/>
<text transform="translate(123.43,723.9) scale(0.7,1)" font-size="17" font-weight="bold" text-anchor="start" fill="#000">C</text>
<line x1="49.9" y1="741.57" x2="85" y2="741.57" stroke="#ff0000" stroke-width="2.6"/>
<text transform="translate(88.2,747.17) scale(0.73,1)" font-size="17" font-weight="bold" text-anchor="start" fill="#000">T=25</text>
<ellipse cx="120.23" cy="736.17" rx="1.6" ry="2.1" fill="none" stroke="#000" stroke-width="1.1"/>
<text transform="translate(123.43,747.17) scale(0.7,1)" font-size="17" font-weight="bold" text-anchor="start" fill="#000">C</text>
<line x1="49.9" y1="764.84" x2="85" y2="764.84" stroke="#00ff00" stroke-width="2.6"/>
<text transform="translate(88.2,770.44) scale(0.73,1)" font-size="17" font-weight="bold" text-anchor="start" fill="#000">T=30</text>
<ellipse cx="120.23" cy="759.44" rx="1.6" ry="2.1" fill="none" stroke="#000" stroke-width="1.1"/>
<text transform="translate(123.43,770.44) scale(0.7,1)" font-size="17" font-weight="bold" text-anchor="start" fill="#000">C</text>
<line x1="49.9" y1="788.11" x2="85" y2="788.11" stroke="#0000ff" stroke-width="2.6"/>
<text transform="translate(88.2,793.71) scale(0.73,1)" font-size="17" font-weight="bold" text-anchor="start" fill="#000">T=35</text>
<ellipse cx="120.23" cy="782.71" rx="1.6" ry="2.1" fill="none" stroke="#000" stroke-width="1.1"/>
<text transform="translate(123.43,793.71) scale(0.7,1)" font-size="17" font-weight="bold" text-anchor="start" fill="#000">C</text>
<line x1="49.9" y1="811.38" x2="85" y2="811.38" stroke="#00ffff" stroke-width="2.6"/>
<text transform="translate(88.2,816.98) scale(0.73,1)" font-size="17" font-weight="bold" text-anchor="start" fill="#000">T=40</text>
<ellipse cx="120.23" cy="805.98" rx="1.6" ry="2.1" fill="none" stroke="#000" stroke-width="1.1"/>
<text transform="translate(123.43,816.98) scale(0.7,1)" font-size="17" font-weight="bold" text-anchor="start" fill="#000">C</text>
<clipPath id="clipf"><rect x="408.8" y="657.7" width="262.9" height="268.5"/></clipPath>
<g clip-path="url(#clipf)">
<polyline points="494.3,924.0 494.3,923.9 494.3,923.8 494.3,923.7 494.3,923.6 494.3,923.5 494.4,923.3 494.4,923.2 494.4,923.0 494.4,922.9 494.4,922.7 494.4,922.5 494.4,922.3 494.4,922.0 494.4,921.8 494.5,921.5 494.5,921.2 494.5,920.9 494.5,920.6 494.5,920.2 494.5,919.8 494.5,919.4 494.5,919.0 494.5,918.5 494.5,918.0 494.5,917.4 494.5,916.8 494.5,916.2 494.6,915.5 494.6,914.7 494.6,913.9 494.6,913.0 494.6,912.1 494.6,911.1 494.6,910.0 494.6,908.9 494.6,907.6 494.6,906.3 494.6,904.9 494.6,903.4 494.6,901.7 494.6,900.0 494.6,898.1 494.6,896.1 494.6,893.9 494.6,891.6 494.6,889.2 494.6,886.6 494.6,883.8 494.6,880.8 494.6,877.6 494.6,874.3 494.7,870.7 494.7,866.9 494.7,862.9 494.7,858.6 494.7,854.1 494.7,849.4 494.7,844.4 494.7,839.2 494.7,833.7 494.7,827.9 494.7,821.9 494.7,815.7 494.7,809.2 494.7,802.5 494.7,795.5 494.7,788.3 494.7,781.0 494.7,773.5 494.7,765.9 494.7,758.1 494.7,750.3 494.7,742.5 494.7,734.7 494.7,726.9 494.7,719.3 494.7,711.8 494.7,704.6 494.7,697.7 494.7,691.1 494.7,684.9 494.7,679.2 494.7,674.0 494.7,669.4 494.7,665.4 494.7,662.1 494.7,659.5 494.7,657.6 494.7,656.4 494.7,656.0 494.7,656.4 494.7,657.6 494.7,659.5 494.7,662.1 494.7,665.4 494.7,669.4 494.7,674.0 494.7,679.2 494.7,684.9 494.7,691.1 494.7,697.7 494.7,704.6 494.7,711.8 494.7,719.3 494.7,726.9 494.7,734.7 494.7,742.5 494.7,750.3 494.7,758.1 494.7,765.9 494.7,773.5 494.7,781.0 494.7,788.3 494.7,795.5 494.7,802.5 494.7,809.2 494.7,815.7 494.7,821.9 494.7,827.9 494.8,833.7 494.8,839.2 494.8,844.4 494.8,849.4 494.8,854.1 494.8,858.6 494.8,862.9 494.8,866.9 494.8,870.7 494.8,874.3 494.8,877.6 494.8,880.8 494.8,883.8 494.8,886.6 494.8,889.2 494.8,891.6 494.8,893.9 494.8,896.1 494.8,898.1 494.8,900.0 494.8,901.7 494.8,903.4 494.8,904.9 494.8,906.3 494.8,907.6 494.8,908.9 494.8,910.0 494.8,911.1 494.8,912.1 494.8,913.0 494.9,913.9 494.9,914.7 494.9,915.5 494.9,916.2 494.9,916.8 494.9,917.4 494.9,918.0 494.9,918.5 494.9,919.0 494.9,919.4 494.9,919.8 494.9,920.2 494.9,920.6 494.9,920.9 495.0,921.2 495.0,921.5 495.0,921.8 495.0,922.0 495.0,922.3 495.0,922.5 495.0,922.7 495.0,922.9 495.0,923.0 495.1,923.2 495.1,923.3 495.1,923.5 495.1,923.6 495.1,923.7 495.1,923.8 495.1,923.9 495.2,924.0" fill="none" stroke="#000000" stroke-width="2.1" stroke-linejoin="round"/>
<polyline points="530.6,924.0 530.6,923.9 530.6,923.8 530.7,923.7 530.7,923.6 530.7,923.5 530.7,923.3 530.7,923.2 530.8,923.0 530.8,922.9 530.8,922.7 530.8,922.5 530.8,922.3 530.8,922.0 530.8,921.8 530.9,921.5 530.9,921.2 530.9,920.9 530.9,920.6 530.9,920.2 530.9,919.8 530.9,919.4 530.9,919.0 530.9,918.5 531.0,918.0 531.0,917.4 531.0,916.8 531.0,916.2 531.0,915.5 531.0,914.7 531.0,913.9 531.0,913.0 531.0,912.1 531.0,911.1 531.0,910.0 531.0,908.9 531.0,907.6 531.0,906.3 531.1,904.9 531.1,903.4 531.1,901.7 531.1,900.0 531.1,898.1 531.1,896.1 531.1,893.9 531.1,891.6 531.1,889.2 531.1,886.6 531.1,883.8 531.1,880.8 531.1,877.6 531.1,874.3 531.1,870.7 531.1,866.9 531.1,862.9 531.1,858.6 531.1,854.1 531.1,849.4 531.1,844.4 531.1,839.2 531.1,833.7 531.1,827.9 531.1,821.9 531.1,815.7 531.1,809.2 531.2,802.5 531.2,795.5 531.2,788.3 531.2,781.0 531.2,773.5 531.2,765.9 531.2,758.1 531.2,750.3 531.2,742.5 531.2,734.7 531.2,726.9 531.2,719.3 531.2,711.8 531.2,704.6 531.2,697.7 531.2,691.1 531.2,684.9 531.2,679.2 531.2,674.0 531.2,669.4 531.2,665.4 531.2,662.1 531.2,659.5 531.2,657.6 531.2,656.4 531.2,656.0 531.2,656.4 531.2,657.6 531.2,659.5 531.2,662.1 531.2,665.4 531.2,669.4 531.2,674.0 531.2,679.2 531.2,684.9 531.2,691.1 531.2,697.7 531.2,704.6 531.2,711.8 531.2,719.3 531.2,726.9 531.2,734.7 531.2,742.5 531.2,750.3 531.2,758.1 531.2,765.9 531.2,773.5 531.2,781.0 531.2,788.3 531.2,795.5 531.2,802.5 531.2,809.2 531.2,815.7 531.2,821.9 531.2,827.9 531.3,833.7 531.3,839.2 531.3,844.4 531.3,849.4 531.3,854.1 531.3,858.6 531.3,862.9 531.3,866.9 531.3,870.7 531.3,874.3 531.3,877.6 531.3,880.8 531.3,883.8 531.3,886.6 531.3,889.2 531.3,891.6 531.3,893.9 531.3,896.1 531.3,898.1 531.3,900.0 531.3,901.7 531.3,903.4 531.3,904.9 531.3,906.3 531.3,907.6 531.4,908.9 531.4,910.0 531.4,911.1 531.4,912.1 531.4,913.0 531.4,913.9 531.4,914.7 531.4,915.5 531.4,916.2 531.4,916.8 531.4,917.4 531.4,918.0 531.4,918.5 531.5,919.0 531.5,919.4 531.5,919.8 531.5,920.2 531.5,920.6 531.5,920.9 531.5,921.2 531.5,921.5 531.5,921.8 531.6,922.0 531.6,922.3 531.6,922.5 531.6,922.7 531.6,922.9 531.6,923.0 531.7,923.2 531.7,923.3 531.7,923.5 531.7,923.6 531.7,923.7 531.8,923.8 531.8,923.9 531.8,924.0" fill="none" stroke="#ff0000" stroke-width="2.1" stroke-linejoin="round"/>
<polyline points="565.4,924.0 565.4,923.9 565.5,923.8 565.5,923.7 565.5,923.6 565.6,923.5 565.6,923.3 565.6,923.2 565.6,923.0 565.7,922.9 565.7,922.7 565.7,922.5 565.7,922.3 565.8,922.0 565.8,921.8 565.8,921.5 565.8,921.2 565.8,920.9 565.9,920.6 565.9,920.2 565.9,919.8 565.9,919.4 565.9,919.0 565.9,918.5 565.9,918.0 566.0,917.4 566.0,916.8 566.0,916.2 566.0,915.5 566.0,914.7 566.0,913.9 566.0,913.0 566.0,912.1 566.1,911.1 566.1,910.0 566.1,908.9 566.1,907.6 566.1,906.3 566.1,904.9 566.1,903.4 566.1,901.7 566.1,900.0 566.1,898.1 566.1,896.1 566.1,893.9 566.1,891.6 566.2,889.2 566.2,886.6 566.2,883.8 566.2,880.8 566.2,877.6 566.2,874.3 566.2,870.7 566.2,866.9 566.2,862.9 566.2,858.6 566.2,854.1 566.2,849.4 566.2,844.4 566.2,839.2 566.2,833.7 566.2,827.9 566.2,821.9 566.2,815.7 566.2,809.2 566.2,802.5 566.2,795.5 566.2,788.3 566.3,781.0 566.3,773.5 566.3,765.9 566.3,758.1 566.3,750.3 566.3,742.5 566.3,734.7 566.3,726.9 566.3,719.3 566.3,711.8 566.3,704.6 566.3,697.7 566.3,691.1 566.3,684.9 566.3,679.2 566.3,674.0 566.3,669.4 566.3,665.4 566.3,662.1 566.3,659.5 566.3,657.6 566.3,656.4 566.3,656.0 566.3,656.4 566.3,657.6 566.3,659.5 566.3,662.1 566.3,665.4 566.3,669.4 566.3,674.0 566.3,679.2 566.3,684.9 566.3,691.1 566.3,697.7 566.3,704.6 566.3,711.8 566.3,719.3 566.3,726.9 566.3,734.7 566.3,742.5 566.4,750.3 566.4,758.1 566.4,765.9 566.4,773.5 566.4,781.0 566.4,788.3 566.4,795.5 566.4,802.5 566.4,809.2 566.4,815.7 566.4,821.9 566.4,827.9 566.4,833.7 566.4,839.2 566.4,844.4 566.4,849.4 566.4,854.1 566.4,858.6 566.4,862.9 566.4,866.9 566.4,870.7 566.4,874.3 566.4,877.6 566.4,880.8 566.4,883.8 566.5,886.6 566.5,889.2 566.5,891.6 566.5,893.9 566.5,896.1 566.5,898.1 566.5,900.0 566.5,901.7 566.5,903.4 566.5,904.9 566.5,906.3 566.5,907.6 566.5,908.9 566.6,910.0 566.6,911.1 566.6,912.1 566.6,913.0 566.6,913.9 566.6,914.7 566.6,915.5 566.6,916.2 566.6,916.8 566.7,917.4 566.7,918.0 566.7,918.5 566.7,919.0 566.7,919.4 566.7,919.8 566.7,920.2 566.8,920.6 566.8,920.9 566.8,921.2 566.8,921.5 566.8,921.8 566.9,922.0 566.9,922.3 566.9,922.5 566.9,922.7 566.9,922.9 567.0,923.0 567.0,923.2 567.0,923.3 567.1,923.5 567.1,923.6 567.1,923.7 567.1,923.8 567.2,923.9 567.2,924.0" fill="none" stroke="#00ff00" stroke-width="2.1" stroke-linejoin="round"/>
<polyline points="595.6,924.0 595.6,923.9 595.7,923.8 595.7,923.7 595.7,923.6 595.8,923.5 595.8,923.3 595.8,923.2 595.9,923.0 595.9,922.9 595.9,922.7 595.9,922.5 596.0,922.3 596.0,922.0 596.0,921.8 596.0,921.5 596.1,921.2 596.1,920.9 596.1,920.6 596.1,920.2 596.1,919.8 596.2,919.4 596.2,919.0 596.2,918.5 596.2,918.0 596.2,917.4 596.2,916.8 596.3,916.2 596.3,915.5 596.3,914.7 596.3,913.9 596.3,913.0 596.3,912.1 596.3,911.1 596.3,910.0 596.4,908.9 596.4,907.6 596.4,906.3 596.4,904.9 596.4,903.4 596.4,901.7 596.4,900.0 596.4,898.1 596.4,896.1 596.4,893.9 596.4,891.6 596.4,889.2 596.5,886.6 596.5,883.8 596.5,880.8 596.5,877.6 596.5,874.3 596.5,870.7 596.5,866.9 596.5,862.9 596.5,858.6 596.5,854.1 596.5,849.4 596.5,844.4 596.5,839.2 596.5,833.7 596.5,827.9 596.5,821.9 596.5,815.7 596.5,809.2 596.6,802.5 596.6,795.5 596.6,788.3 596.6,781.0 596.6,773.5 596.6,765.9 596.6,758.1 596.6,750.3 596.6,742.5 596.6,734.7 596.6,726.9 596.6,719.3 596.6,711.8 596.6,704.6 596.6,697.7 596.6,691.1 596.6,684.9 596.6,679.2 596.6,674.0 596.6,669.4 596.6,665.4 596.6,662.1 596.6,659.5 596.6,657.6 596.6,656.4 596.6,656.0 596.6,656.4 596.6,657.6 596.6,659.5 596.6,662.1 596.6,665.4 596.6,669.4 596.6,674.0 596.6,679.2 596.7,684.9 596.7,691.1 596.7,697.7 596.7,704.6 596.7,711.8 596.7,719.3 596.7,726.9 596.7,734.7 596.7,742.5 596.7,750.3 596.7,758.1 596.7,765.9 596.7,773.5 596.7,781.0 596.7,788.3 596.7,795.5 596.7,802.5 596.7,809.2 596.7,815.7 596.7,821.9 596.7,827.9 596.7,833.7 596.7,839.2 596.7,844.4 596.7,849.4 596.7,854.1 596.7,858.6 596.8,862.9 596.8,866.9 596.8,870.7 596.8,874.3 596.8,877.6 596.8,880.8 596.8,883.8 596.8,886.6 596.8,889.2 596.8,891.6 596.8,893.9 596.8,896.1 596.8,898.1 596.8,900.0 596.9,901.7 596.9,903.4 596.9,904.9 596.9,906.3 596.9,907.6 596.9,908.9 596.9,910.0 596.9,911.1 596.9,912.1 596.9,913.0 597.0,913.9 597.0,914.7 597.0,915.5 597.0,916.2 597.0,916.8 597.0,917.4 597.0,918.0 597.1,918.5 597.1,919.0 597.1,919.4 597.1,919.8 597.1,920.2 597.2,920.6 597.2,920.9 597.2,921.2 597.2,921.5 597.2,921.8 597.3,922.0 597.3,922.3 597.3,922.5 597.3,922.7 597.4,922.9 597.4,923.0 597.4,923.2 597.5,923.3 597.5,923.5 597.5,923.6 597.6,923.7 597.6,923.8 597.6,923.9 597.7,924.0" fill="none" stroke="#0000ff" stroke-width="2.1" stroke-linejoin="round"/>
<polyline points="619.3,924.0 619.4,923.9 619.4,923.8 619.5,923.7 619.6,923.6 619.6,923.5 619.7,923.3 619.7,923.2 619.8,923.0 619.8,922.9 619.9,922.7 619.9,922.5 620.0,922.3 620.0,922.0 620.0,921.8 620.1,921.5 620.1,921.2 620.2,920.9 620.2,920.6 620.2,920.2 620.3,919.8 620.3,919.4 620.3,919.0 620.4,918.5 620.4,918.0 620.4,917.4 620.4,916.8 620.5,916.2 620.5,915.5 620.5,914.7 620.5,913.9 620.6,913.0 620.6,912.1 620.6,911.1 620.6,910.0 620.6,908.9 620.7,907.6 620.7,906.3 620.7,904.9 620.7,903.4 620.7,901.7 620.7,900.0 620.7,898.1 620.8,896.1 620.8,893.9 620.8,891.6 620.8,889.2 620.8,886.6 620.8,883.8 620.8,880.8 620.8,877.6 620.9,874.3 620.9,870.7 620.9,866.9 620.9,862.9 620.9,858.6 620.9,854.1 620.9,849.4 620.9,844.4 620.9,839.2 620.9,833.7 620.9,827.9 621.0,821.9 621.0,815.7 621.0,809.2 621.0,802.5 621.0,795.5 621.0,788.3 621.0,781.0 621.0,773.5 621.0,765.9 621.0,758.1 621.0,750.3 621.0,742.5 621.0,734.7 621.0,726.9 621.0,719.3 621.0,711.8 621.1,704.6 621.1,697.7 621.1,691.1 621.1,684.9 621.1,679.2 621.1,674.0 621.1,669.4 621.1,665.4 621.1,662.1 621.1,659.5 621.1,657.6 621.1,656.4 621.1,656.0 621.1,656.4 621.1,657.6 621.1,659.5 621.1,662.1 621.1,665.4 621.1,669.4 621.1,674.0 621.1,679.2 621.1,684.9 621.2,691.1 621.2,697.7 621.2,704.6 621.2,711.8 621.2,719.3 621.2,726.9 621.2,734.7 621.2,742.5 621.2,750.3 621.2,758.1 621.2,765.9 621.2,773.5 621.2,781.0 621.2,788.3 621.2,795.5 621.2,802.5 621.2,809.2 621.3,815.7 621.3,821.9 621.3,827.9 621.3,833.7 621.3,839.2 621.3,844.4 621.3,849.4 621.3,854.1 621.3,858.6 621.3,862.9 621.3,866.9 621.3,870.7 621.4,874.3 621.4,877.6 621.4,880.8 621.4,883.8 621.4,886.6 621.4,889.2 621.4,891.6 621.4,893.9 621.5,896.1 621.5,898.1 621.5,900.0 621.5,901.7 621.5,903.4 621.5,904.9 621.5,906.3 621.6,907.6 621.6,908.9 621.6,910.0 621.6,911.1 621.6,912.1 621.7,913.0 621.7,913.9 621.7,914.7 621.7,915.5 621.8,916.2 621.8,916.8 621.8,917.4 621.8,918.0 621.9,918.5 621.9,919.0 621.9,919.4 621.9,919.8 622.0,920.2 622.0,920.6 622.1,920.9 622.1,921.2 622.1,921.5 622.2,921.8 622.2,922.0 622.2,922.3 622.3,922.5 622.3,922.7 622.4,922.9 622.4,923.0 622.5,923.2 622.5,923.3 622.6,923.5 622.7,923.6 622.7,923.7 622.8,923.8 622.8,923.9 622.9,924.0" fill="none" stroke="#00ffff" stroke-width="2.1" stroke-linejoin="round"/>
<polyline points="635.3,924.0 635.5,923.9 635.6,923.8 635.8,923.7 635.9,923.6 636.1,923.5 636.2,923.3 636.4,923.2 636.5,923.0 636.6,922.9 636.7,922.7 636.8,922.5 636.9,922.3 637.1,922.0 637.2,921.8 637.3,921.5 637.4,921.2 637.4,920.9 637.5,920.6 637.6,920.2 637.7,919.8 637.8,919.4 637.9,919.0 637.9,918.5 638.0,918.0 638.1,917.4 638.1,916.8 638.2,916.2 638.3,915.5 638.3,914.7 638.4,913.9 638.4,913.0 638.5,912.1 638.5,911.1 638.6,910.0 638.6,908.9 638.7,907.6 638.7,906.3 638.8,904.9 638.8,903.4 638.8,901.7 638.9,900.0 638.9,898.1 638.9,896.1 639.0,893.9 639.0,891.6 639.0,889.2 639.1,886.6 639.1,883.8 639.1,880.8 639.2,877.6 639.2,874.3 639.2,870.7 639.2,866.9 639.3,862.9 639.3,858.6 639.3,854.1 639.3,849.4 639.3,844.4 639.4,839.2 639.4,833.7 639.4,827.9 639.4,821.9 639.4,815.7 639.5,809.2 639.5,802.5 639.5,795.5 639.5,788.3 639.5,781.0 639.5,773.5 639.6,765.9 639.6,758.1 639.6,750.3 639.6,742.5 639.6,734.7 639.6,726.9 639.6,719.3 639.6,711.8 639.7,704.6 639.7,697.7 639.7,691.1 639.7,684.9 639.7,679.2 639.7,674.0 639.7,669.4 639.7,665.4 639.8,662.1 639.8,659.5 639.8,657.6 639.8,656.4 639.8,656.0 639.8,656.4 639.8,657.6 639.8,659.5 639.8,662.1 639.9,665.4 639.9,669.4 639.9,674.0 639.9,679.2 639.9,684.9 639.9,691.1 639.9,697.7 639.9,704.6 640.0,711.8 640.0,719.3 640.0,726.9 640.0,734.7 640.0,742.5 640.0,750.3 640.0,758.1 640.1,765.9 640.1,773.5 640.1,781.0 640.1,788.3 640.1,795.5 640.1,802.5 640.1,809.2 640.2,815.7 640.2,821.9 640.2,827.9 640.2,833.7 640.2,839.2 640.3,844.4 640.3,849.4 640.3,854.1 640.3,858.6 640.3,862.9 640.4,866.9 640.4,870.7 640.4,874.3 640.4,877.6 640.5,880.8 640.5,883.8 640.5,886.6 640.6,889.2 640.6,891.6 640.6,893.9 640.7,896.1 640.7,898.1 640.7,900.0 640.8,901.7 640.8,903.4 640.9,904.9 640.9,906.3 640.9,907.6 641.0,908.9 641.0,910.0 641.1,911.1 641.1,912.1 641.2,913.0 641.2,913.9 641.3,914.7 641.4,915.5 641.4,916.2 641.5,916.8 641.5,917.4 641.6,918.0 641.7,918.5 641.8,919.0 641.8,919.4 641.9,919.8 642.0,920.2 642.1,920.6 642.2,920.9 642.3,921.2 642.3,921.5 642.4,921.8 642.5,922.0 642.7,922.3 642.8,922.5 642.9,922.7 643.0,922.9 643.1,923.0 643.3,923.2 643.4,923.3 643.5,923.5 643.7,923.6 643.8,923.7 644.0,923.8 644.1,923.9 644.3,924.0" fill="none" stroke="#ff00ff" stroke-width="2.1" stroke-linejoin="round"/>
</g>
<rect x="408.8" y="658.7" width="262.9" height="266.5" fill="none" stroke="#000" stroke-width="2.3"/>
<line x1="403.8" y1="925.2" x2="408.8" y2="925.2" stroke="#000" stroke-width="2"/>
<text transform="translate(401.2,928.8) scale(0.745,1)" font-size="15" font-weight="bold" text-anchor="end" fill="#000">0</text>
<line x1="403.8" y1="898.55" x2="408.8" y2="898.55" stroke="#000" stroke-width="2"/>
<text transform="translate(401.2,902.15) scale(0.745,1)" font-size="15" font-weight="bold" text-anchor="end" fill="#000">10</text>
<line x1="403.8" y1="871.9" x2="408.8" y2="871.9" stroke="#000" stroke-width="2"/>
<text transform="translate(401.2,875.5) scale(0.745,1)" font-size="15" font-weight="bold" text-anchor="end" fill="#000">20</text>
<line x1="403.8" y1="845.25" x2="408.8" y2="845.25" stroke="#000" stroke-width="2"/>
<text transform="translate(401.2,848.85) scale(0.745,1)" font-size="15" font-weight="bold" text-anchor="end" fill="#000">30</text>
<line x1="403.8" y1="818.6" x2="408.8" y2="818.6" stroke="#000" stroke-width="2"/>
<text transform="translate(401.2,822.2) scale(0.745,1)" font-size="15" font-weight="bold" text-anchor="end" fill="#000">40</text>
<line x1="403.8" y1="791.95" x2="408.8" y2="791.95" stroke="#000" stroke-width="2"/>
<text transform="translate(401.2,795.55) scale(0.745,1)" font-size="15" font-weight="bold" text-anchor="end" fill="#000">50</text>
<line x1="403.8" y1="765.3" x2="408.8" y2="765.3" stroke="#000" stroke-width="2"/>
<text transform="translate(401.2,768.9) scale(0.745,1)" font-size="15" font-weight="bold" text-anchor="end" fill="#000">60</text>
<line x1="403.8" y1="738.65" x2="408.8" y2="738.65" stroke="#000" stroke-width="2"/>
<text transform="translate(401.2,742.25) scale(0.745,1)" font-size="15" font-weight="bold" text-anchor="end" fill="#000">70</text>
<line x1="403.8" y1="712" x2="408.8" y2="712" stroke="#000" stroke-width="2"/>
<text transform="translate(401.2,715.6) scale(0.745,1)" font-size="15" font-weight="bold" text-anchor="end" fill="#000">80</text>
<line x1="403.8" y1="685.35" x2="408.8" y2="685.35" stroke="#000" stroke-width="2"/>
<text transform="translate(401.2,688.95) scale(0.745,1)" font-size="15" font-weight="bold" text-anchor="end" fill="#000">90</text>
<line x1="403.8" y1="658.7" x2="408.8" y2="658.7" stroke="#000" stroke-width="2"/>
<text transform="translate(401.2,662.3) scale(0.745,1)" font-size="15" font-weight="bold" text-anchor="end" fill="#000">100</text>
<line x1="408.8" y1="925.2" x2="408.8" y2="931.2" stroke="#000" stroke-width="2"/>
<text transform="translate(408.8,945.3) scale(0.745,1)" font-size="15" font-weight="bold" text-anchor="middle" fill="#000">300</text>
<line x1="438.01" y1="925.2" x2="438.01" y2="931.2" stroke="#000" stroke-width="2"/>
<text transform="translate(438.01,945.3) scale(0.745,1)" font-size="15" font-weight="bold" text-anchor="middle" fill="#000">400</text>
<line x1="467.22" y1="925.2" x2="467.22" y2="931.2" stroke="#000" stroke-width="2"/>
<text transform="translate(467.22,945.3) scale(0.745,1)" font-size="15" font-weight="bold" text-anchor="middle" fill="#000">500</text>
<line x1="496.43" y1="925.2" x2="496.43" y2="931.2" stroke="#000" stroke-width="2"/>
<text transform="translate(496.43,945.3) scale(0.745,1)" font-size="15" font-weight="bold" text-anchor="middle" fill="#000">600</text>
<line x1="525.64" y1="925.2" x2="525.64" y2="931.2" stroke="#000" stroke-width="2"/>
<text transform="translate(525.64,945.3) scale(0.745,1)" font-size="15" font-weight="bold" text-anchor="middle" fill="#000">700</text>
<line x1="554.86" y1="925.2" x2="554.86" y2="931.2" stroke="#000" stroke-width="2"/>
<text transform="translate(554.86,945.3) scale(0.745,1)" font-size="15" font-weight="bold" text-anchor="middle" fill="#000">800</text>
<line x1="584.07" y1="925.2" x2="584.07" y2="931.2" stroke="#000" stroke-width="2"/>
<text transform="translate(584.07,945.3) scale(0.745,1)" font-size="15" font-weight="bold" text-anchor="middle" fill="#000">900</text>
<line x1="613.28" y1="925.2" x2="613.28" y2="931.2" stroke="#000" stroke-width="2"/>
<text transform="translate(613.28,945.3) scale(0.745,1)" font-size="15" font-weight="bold" text-anchor="middle" fill="#000">1000</text>
<line x1="642.49" y1="925.2" x2="642.49" y2="931.2" stroke="#000" stroke-width="2"/>
<text transform="translate(642.49,945.3) scale(0.745,1)" font-size="15" font-weight="bold" text-anchor="middle" fill="#000">1100</text>
<line x1="671.7" y1="925.2" x2="671.7" y2="931.2" stroke="#000" stroke-width="2"/>
<text transform="translate(671.7,945.3) scale(0.745,1)" font-size="15" font-weight="bold" text-anchor="middle" fill="#000">1200</text>
<text transform="translate(540.4,968.7) scale(0.822,1)" font-size="20.0" font-weight="bold" text-anchor="middle" fill="#000">Wavelength (nm)</text>
<text transform="translate(376,796.8) rotate(-90) scale(1,0.81)" font-size="20.9" font-weight="bold" text-anchor="middle" textLength="174.2" lengthAdjust="spacingAndGlyphs">Trnasmission (%)</text>
<text transform="translate(411,674.4) scale(0.76,1)" font-size="16.2" font-weight="bold" text-anchor="start" fill="#000">(e)</text>
<text transform="translate(411.4,698.2) scale(0.82,1)" font-size="15" font-weight="bold"><tspan font-weight="normal" dy="0.9">θ</tspan><tspan dy="-0.9">=</tspan>65</text>
<ellipse cx="441.32" cy="687.8" rx="1.5" ry="1.9" fill="none" stroke="#000" stroke-width="1.0"/>
<line x1="410.3" y1="716.3" x2="445" y2="716.3" stroke="#000000" stroke-width="2.6"/>
<text transform="translate(447.9,721.9) scale(0.7,1)" font-size="17" font-weight="bold" text-anchor="start" fill="#000">T=20</text>
<ellipse cx="478.55" cy="710.9" rx="1.6" ry="2.1" fill="none" stroke="#000" stroke-width="1.1"/>
<text transform="translate(481.35,721.9) scale(0.7,1)" font-size="17" font-weight="bold" text-anchor="start" fill="#000">C</text>
<line x1="410.3" y1="739.38" x2="445" y2="739.38" stroke="#ff0000" stroke-width="2.6"/>
<text transform="translate(447.9,744.98) scale(0.7,1)" font-size="17" font-weight="bold" text-anchor="start" fill="#000">T=25</text>
<ellipse cx="478.55" cy="733.98" rx="1.6" ry="2.1" fill="none" stroke="#000" stroke-width="1.1"/>
<text transform="translate(481.35,744.98) scale(0.7,1)" font-size="17" font-weight="bold" text-anchor="start" fill="#000">C</text>
<line x1="410.3" y1="762.46" x2="445" y2="762.46" stroke="#00ff00" stroke-width="2.6"/>
<text transform="translate(447.9,768.06) scale(0.7,1)" font-size="17" font-weight="bold" text-anchor="start" fill="#000">T=30</text>
<ellipse cx="478.55" cy="757.06" rx="1.6" ry="2.1" fill="none" stroke="#000" stroke-width="1.1"/>
<text transform="translate(481.35,768.06) scale(0.7,1)" font-size="17" font-weight="bold" text-anchor="start" fill="#000">C</text>
<line x1="410.3" y1="785.54" x2="445" y2="785.54" stroke="#0000ff" stroke-width="2.6"/>
<text transform="translate(447.9,791.14) scale(0.7,1)" font-size="17" font-weight="bold" text-anchor="start" fill="#000">T=35</text>
<ellipse cx="478.55" cy="780.14" rx="1.6" ry="2.1" fill="none" stroke="#000" stroke-width="1.1"/>
<text transform="translate(481.35,791.14) scale(0.7,1)" font-size="17" font-weight="bold" text-anchor="start" fill="#000">C</text>
<line x1="410.3" y1="808.62" x2="445" y2="808.62" stroke="#00ffff" stroke-width="2.6"/>
<text transform="translate(447.9,814.22) scale(0.7,1)" font-size="17" font-weight="bold" text-anchor="start" fill="#000">T=40</text>
<ellipse cx="478.55" cy="803.22" rx="1.6" ry="2.1" fill="none" stroke="#000" stroke-width="1.1"/>
<text transform="translate(481.35,814.22) scale(0.7,1)" font-size="17" font-weight="bold" text-anchor="start" fill="#000">C</text>
<line x1="410.3" y1="831.7" x2="445" y2="831.7" stroke="#ff00ff" stroke-width="2.6"/>
<text transform="translate(447.9,837.3) scale(0.7,1)" font-size="17" font-weight="bold" text-anchor="start" fill="#000">T=45</text>
<ellipse cx="478.55" cy="826.3" rx="1.6" ry="2.1" fill="none" stroke="#000" stroke-width="1.1"/>
<text transform="translate(481.35,837.3) scale(0.7,1)" font-size="17" font-weight="bold" text-anchor="start" fill="#000">C</text>
</svg></body></html>
